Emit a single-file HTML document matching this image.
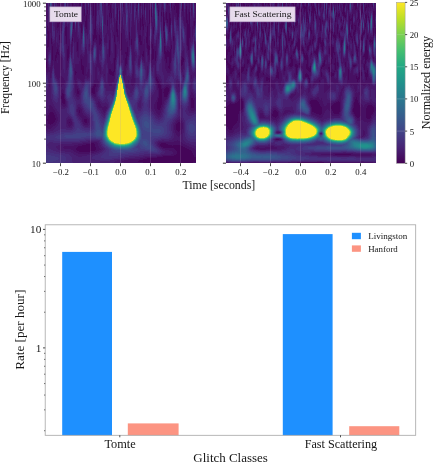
<!DOCTYPE html>
<html><head><meta charset="utf-8"><title>Glitch spectrograms</title>
<style>html,body{margin:0;padding:0;background:#fff;}svg{display:block}text{font-family:"Liberation Serif",serif;fill:#161616;stroke:#161616;stroke-width:0}</style>
</head><body>
<svg width="433" height="463" viewBox="0 0 433 463">
<defs>
<linearGradient id="vir" x1="0" y1="1" x2="0" y2="0">
<stop offset="0.0" stop-color="#440154"/>
<stop offset="0.1" stop-color="#482475"/>
<stop offset="0.2" stop-color="#414487"/>
<stop offset="0.3" stop-color="#355f8d"/>
<stop offset="0.4" stop-color="#2a788e"/>
<stop offset="0.5" stop-color="#21918c"/>
<stop offset="0.6" stop-color="#22a884"/>
<stop offset="0.7" stop-color="#44bf70"/>
<stop offset="0.8" stop-color="#7ad151"/>
<stop offset="0.9" stop-color="#bddf26"/>
<stop offset="1.0" stop-color="#fde725"/>
</linearGradient>
<filter id="ident" filterUnits="userSpaceOnUse" x="0" y="0" width="433" height="463" color-interpolation-filters="sRGB"><feOffset dx="0" dy="0"/></filter>
<filter id="soft" filterUnits="userSpaceOnUse" x="0" y="-10" width="433" height="200" color-interpolation-filters="sRGB"><feGaussianBlur stdDeviation="0.45"/></filter>
<clipPath id="cl"><rect x="46" y="3" width="150" height="160"/></clipPath>
<clipPath id="cr"><rect x="226" y="3" width="150" height="160"/></clipPath>
</defs>
<rect width="433" height="463" fill="#fff"/>
<g clip-path="url(#cl)"><g fill="none" stroke-width="1" shape-rendering="crispEdges" filter="url(#soft)">
<rect x="43" y="0" width="156" height="166" fill="#450559" stroke="none"/>
<path stroke="#471063" d="M43.5 0v62m0 6v98m1-166v62m0 6v98m1-166v62m0 6v98m1-166v62m0 6v98m1-166v26m0 8v6m0 8v71m0 2v45m1-166v31m0 16v68m0 9v42m1-166v113m0 11v42m1-166v112m0 13v41m1-166v16m0 5v17m0 6v68m0 12v42m1-166v46m0 14v52m0 12v42m1-166v7m0 5v101m0 10v43m1-166v115m0 7v44m1-166v55m0 6v57m0 2v46m1-166v15m0 6v31m0 6v108m1-162v19m0 5v21m0 5v112m1-166v23m0 4v25m0 3v111m1-157v13m0 2v11m0 5v126m1-166v21m0 7v138m1-166v96m0 3v67m1-166v12m0 4v77m0 10v63m1-166v94m0 10v62m1-166v99m0 5v62m1-166v27m0 9v130m1-166v26m0 18v122m1-166v49m0 12v105m1-166v46m0 12v108m1-166v122m0 1v43m1-166v166m1-166v166m1-156v28m0 3v125m1-166v10m0 8v4m0 7v137m1-166v166m1-166v71m0 4v91m1-166v6m0 10v56m0 1v75m0 2v16m1-166v42m0 9v38m0 5v53m0 4v15m1-166v91m0 3v52m0 5v15m1-159v103m0 3v33m0 6v14m1-148v128m0 6v14m1-166v24m0 9v26m0 11v76m0 6v14m1-166v65m0 9v71m0 7v14m1-160v60m0 9v70m0 7v14m1-166v9m0 7v103m0 3v23m0 7v14m1-166v21m0 6v92m0 4v22m0 7v14m1-166v15m0 14v90m0 4v21m0 8v14m1-166v10m0 4v130m0 8v14m1-166v144m0 8v14m1-166v144m0 8v14m1-166v144m0 7v15m1-166v143m0 8v15m1-166v88m0 5v50m0 8v15m1-150v19m0 6v45m0 8v49m0 8v15m1-166v29m0 10v45m0 10v50m0 7v15m1-128v46m0 3v60m0 3v16m1-166v35m0 5v126m1-166v166m1-166v166m1-166v35m0 10v121m1-166v38m0 6v122m1-166v39m0 2v125m1-166v166m1-166v166m1-162v162m1-166v166m1-166v166m1-166v20m0 6v140m1-160v160m1-161v8m0 4v23m0 17v12m0 5v92m1-166v5m0 8v56m0 6v91m1-162v9m0 5v53m0 4v91m1-166v72m0 4v90m1-166v71m0 5v90m1-166v35m0 7v16m0 14v94m1-166v44m0 16v106m1-166v21m0 11v134m1-166v8m0 12v9m0 8v129m1-166v166m1-166v11m0 13v142m1-166v49m0 2v115m1-166v33m0 17v116m1-166v166m1-159v159m1-166v166m1-166v52m0 2v4m0 8v100m1-166v52m0 12v102m1-166v47m0 9v110m1-166v166m1-166v32m0 8v126m1-166v166m1-166v39m0 6v121m1-166v166m1-166v166m1-166v166m1-166v166m1-166v8m0 3v155m1-161v161m1-166v161m0 1v4m1-166v35m0 7v118m0 2v4m1-160v12m0 12v5m0 10v115m0 2v4m1-166v41m0 4v115m0 2v4m1-166v15m0 11v28m0 2v104m0 2v4m1-166v24m0 6v21m0 6v102m1-149v149m1-159v159m1-159v37m0 6v116m1-159v26m0 23v109m1-158v45m0 10v103m1-158v10m0 14v22m0 4v108m1-158v158m1-158v7m0 10v141m1-158v44m0 16v98m1-158v27m0 7v15m0 10v99m1-158v158m1-158v51m0 10v97m1-158v77m0 4v77m1-153v74m0 5v18m0 7v48m1-157v10m0 6v65m0 7v10m0 12v47m1-157v83m0 27v47m1-157v85m0 23v36m0 2v11m1-157v12m0 4v73m0 16v38m0 4v10m1-157v143m0 4v10m1-157v12m0 19v61m0 1v50m0 5v8m1-156v22m0 4v6m0 11v3m0 8v35m0 8v46m0 5v8m1-156v51m0 8v29m0 9v46m0 5v8m1-156v12m0 8v32m0 11v24m0 10v47m0 4v8m1-151v14m0 4v27m0 7v30m0 8v49m0 4v8m1-156v51m0 6v9m0 2v20m0 4v53m0 3v8m1-156v13m0 19v20m0 17v76m0 3v8m1-156v18m0 7v24m0 14v82m0 3v8m1-148v37m0 4v96m0 3v8m1-156v146m0 2v8m1-156v36m0 5v104m0 3v8m1-156v6m0 4v135m0 4v6m1-149v139m0 5v5m1-142v111m0 6v15m0 6v3m1-134v103m0 8v14m1-128v105m0 10v13m1-145v122m0 9v14m1-145v123m0 7v15m1-145v60m0 6v80m1-135v46m0 8v81m1-146v58m0 4v85m1-147v147m1-147v148m1-148v6m0 17v125m1-148v20m0 26v103m1-149v24m0 26v99m1-149v12m0 26v112m1-150v150m1-150v8m0 2v88m0 10v43m1-151v98m0 10v45m1-153v100m0 8v47m0 7v4m1-166v21m0 5v131m0 5v4m1-166v157m0 5v4m1-166v157m0 5v4m1-166v157m0 5v4m1-166v157m0 5v4"/>
<path stroke="#48186a" d="M43.5 19v30m0 23v43m0 12v39m1-147v30m0 23v43m0 12v39m1-147v30m0 23v43m0 12v39m1-147v30m0 23v43m0 12v39m1-166v4m0 69v40m0 15v38m1-166v27m0 25v15m0 5v37m0 20v37m1-166v17m0 33v20m0 2v10m0 5v18m0 24v37m1-166v16m0 17v34m0 11v27m0 24v37m1-166v14m0 59v33m0 22v38m1-166v42m0 24v41m0 20v39m1-148v26m0 17v48m0 17v40m1-166v43m0 26v41m0 16v40m1-166v10m0 65v37m0 13v41m1-166v10m0 20v17m0 30v37m0 9v43m1-133v10m0 17v3m0 16v38m0 4v45m1-158v11m0 12v14m0 35v86m1-123v11m0 24v88m1-166v8m0 25v23m0 17v3m0 8v11m0 4v67m1-166v22m0 9v26m0 13v6m0 11v3m0 15v61m1-146v57m0 8v4m0 17v60m1-159v71m0 7v5m0 17v40m0 1v18m1-166v80m0 3v11m0 13v39m0 3v17m1-166v22m0 22v56m0 6v40m0 3v17m1-159v14m0 49v76m0 3v17m1-166v27m0 41v52m0 4v22m0 3v17m1-166v24m0 39v56m0 7v20m0 3v17m1-147v20m0 15v65m0 8v19m0 3v17m1-166v119m0 7v20m0 3v17m1-162v40m0 11v66m0 4v21m0 4v16m1-153v21m0 13v99m0 4v16m1-129v109m0 5v15m1-166v5m0 38v25m0 12v65m0 7v14m1-160v26m0 10v22m0 29v52m0 7v14m1-114v12m0 16v1m0 15v49m0 8v13m1-145v16m0 20v7m0 14v8m0 11v12m0 3v33m0 8v13m1-166v4m0 7v28m0 19v6m0 15v9m0 9v10m0 8v29m0 10v12m1-146v41m0 18v11m0 5v12m0 9v28m0 10v12m1-138v27m0 25v28m0 9v27m0 10v12m1-166v13m0 26v15m0 27v28m0 9v26m0 10v12m1-135v25m0 26v31m0 9v22m0 10v12m1-144v35m0 25v33m0 9v19m0 11v12m1-144v33m0 24v37m0 9v18m0 11v12m1-166v16m0 17v14m0 29v40m0 9v18m0 11v12m1-133v16m0 18v7m0 2v41m0 8v18m0 11v12m1-166v4m0 31v37m0 6v40m0 7v18m0 11v12m1-166v14m0 5v50m0 8v42m0 4v20m0 11v12m1-151v29m0 3v96m0 10v13m1-166v43m0 7v92m0 11v13m1-159v81m0 5v49m0 11v13m1-148v27m0 5v36m0 9v47m0 11v13m1-121v38m0 13v46m0 11v13m1-166v10m0 32v38m0 17v45m0 10v14m1-124v25m0 30v45m0 10v14m1-150v14m0 14v20m0 28v50m0 10v14m1-166v32m0 35v12m0 8v16m0 1v39m0 8v15m1-160v28m0 34v13m0 3v17m0 6v39m0 5v15m1-166v28m0 22v13m0 8v31m0 6v40m0 2v16m1-166v32m0 19v14m0 9v30m0 4v41m0 1v16m1-166v32m0 14v60m0 2v58m1-160v101m0 3v56m1-166v107m0 5v54m1-142v14m0 4v32m0 2v30m0 7v53m1-141v10m0 8v63m0 5v55m1-166v33m0 10v64m0 2v57m1-166v15m0 19v20m0 9v103m1-156v20m0 6v13m0 35v82m1-80v80m1-147v14m0 22v6m0 25v80m1-143v41m0 22v80m1-166v30m0 2v31m0 19v84m1-166v9m0 9v14m0 4v22m0 24v84m1-166v18m0 61v87m1-166v23m0 46v97m1-159v7m0 23v8m0 12v109m1-124v124m1-160v29m0 6v125m1-122v122m1-166v13m0 7v11m0 32v103m1-166v27m0 28v111m1-166v17m0 38v106m0 1v4m1-154v17m0 31v11m0 5v85m0 1v4m1-152v16m0 50v80m1-160v39m0 36v85m1-160v42m0 26v92m1-160v41m0 24v95m1-155v42m0 10v23m0 4v75m1-159v18m0 28v113m1-153v153m1-159v27m0 22v30m0 6v74m1-94v9m0 12v73m1-74v74m1-159v25m0 16v11m0 9v17m0 5v76m1-159v55m0 1v103m1-144v144m1-150v11m0 10v129m1-159v23m0 15v21m0 6v94m1-155v17m0 29v6m0 9v94m1-101v100m1-158v19m0 8v9m0 19v103m1-98v98m1-158v17m0 19v8m0 17v97m1-133v14m0 24v95m1-154v18m0 5v130m1-137v12m0 16v109m1-101v10m0 10v81m1-157v23m0 39v95m1-121v4m0 20v97m1-157v9m0 14v134m1-134v19m0 6v6m0 9v94m1-157v22m0 45v90m1-92v92m1-153v15m0 8v19m0 19v39m0 5v48m1-157v46m0 34v22m0 9v46m1-157v40m0 18v16m0 11v15m0 13v44m1-149v68m0 14v7m0 17v42m1-156v5m0 15v13m0 6v38m0 38v28m0 2v11m1-156v79m0 36v27m0 5v9m1-156v81m0 32v29m0 5v9m1-156v7m0 15v63m0 25v32m0 6v8m1-146v78m0 19v35m0 7v6m1-155v8m0 30v50m0 16v38m0 7v6m1-155v17m0 44v26m0 14v41m0 7v6m1-155v13m0 7v26m0 23v17m0 14v42m0 8v5m1-132v25m0 23v14m0 14v43m0 8v5m1-129v20m0 27v12m0 12v45m0 8v5m1-121v12m0 27v12m0 9v48m0 8v5m1-155v6m0 34v7m0 26v13m0 5v51m0 9v4m1-155v14m0 57v71m0 9v4m1-144v30m0 20v81m0 9v3m1-154v8m0 17v117m0 10v2m1-154v5m0 49v88m1-127v21m0 14v75m0 5v11m1-124v106m0 10v8m1-121v101m0 14v6m1-116v95m0 16v4m1-114v58m0 3v33m0 17v4m1-141v119m0 17v5m1-135v114m0 15v7m1-142v56m0 14v51m0 13v8m1-126v35m0 21v51m0 6v14m1-122v29m0 19v6m0 2v67m1-144v17m0 9v33m0 1v84m1-144v9m0 18v118m1-100v100m1-145v14m0 37v95m1-146v9m0 48v89m1-80v81m1-147v27m0 15v53m0 15v37m1-131v59m0 4v13m0 19v36m1-147v26m0 11v56m0 18v37m1-148v21m0 8v66m0 16v37m1-142v12m0 11v12m0 3v54m0 12v39m1-130v25m0 12v94m1-131v25m0 12v94m1-131v25m0 12v94m1-131v25m0 12v94"/>
<path stroke="#482071" d="M43.5 23v21m0 31v25m0 31v35m1-143v21m0 31v25m0 31v35m1-143v21m0 31v25m0 31v35m1-143v21m0 31v25m0 31v35m1-91v14m0 43v34m1-166v23m0 32v9m0 68v34m1-160v4m0 42v15m0 65v34m1-166v14m0 36v15m0 66v35m1-166v12m0 66v21m0 32v35m1-162v35m0 30v33m0 29v35m1-140v15m0 24v39m0 26v36m1-166v17m0 10v13m0 33v33m0 23v37m1-88v30m0 20v38m1-166v6m0 31v5m0 37v30m0 18v19m0 2v18m1-85v30m0 15v20m0 3v17m1-83v29m0 12v21m0 5v16m1-119v3m0 36v28m0 8v23m0 5v16m1-123v10m0 54v37m0 7v15m1-132v20m0 55v35m0 7v15m1-143v35m0 51v35m0 7v15m1-154v57m0 40v35m0 7v15m1-166v31m0 14v28m0 36v35m0 7v15m1-166v18m0 66v14m0 10v36m0 8v14m1-154v5m0 64v20m0 6v11m0 9v17m0 8v14m1-166v10m0 6v8m0 52v41m0 11v16m0 8v14m1-159v14m0 46v49m0 12v16m0 8v14m1-109v60m0 11v16m0 8v14m1-149v101m0 10v16m0 8v14m1-151v27m0 16v61m0 9v16m0 9v13m1-151v17m0 21v69m0 4v17m0 10v13m1-124v21m0 8v72m0 11v12m1-71v48m0 12v11m1-157v21m0 67v46m0 12v11m1-67v10m0 3v31m0 13v10m1-66v5m0 11v27m0 13v10m1-150v19m0 46v4m0 15v4m0 13v26m0 14v9m1-140v12m0 43v7m0 11v5m0 15v24m0 14v9m1-84v8m0 5v10m0 15v23m0 14v9m1-166v10m0 34v6m0 34v23m0 15v21m0 14v9m1-132v19m0 32v23m0 16v18m0 14v10m1-142v30m0 30v27m0 15v16m0 14v10m1-139v25m0 30v31m0 13v16m0 14v10m1-166v13m0 66v35m0 13v15m0 14v10m1-130v8m0 35v36m0 12v15m0 14v10m1-127v15m0 26v36m0 11v15m0 13v11m1-166v10m0 24v10m0 7v12m0 16v38m0 9v15m0 14v11m1-144v17m0 12v18m0 9v40m0 7v16m0 14v11m1-161v36m0 11v89m0 14v11m1-155v37m0 3v35m0 9v46m0 14v11m1-142v10m0 21v28m0 14v44m0 13v12m1-119v16m0 35v43m0 13v12m1-123v22m0 34v42m0 13v12m1-123v20m0 38v40m0 13v12m1-145v5m0 21v10m0 48v36m0 12v13m1-166v28m0 64v5m0 11v33m0 12v13m1-156v20m0 42v3m0 13v11m0 10v32m0 12v13m1-162v18m0 32v6m0 24v15m0 11v33m0 9v14m1-166v29m0 27v6m0 16v23m0 10v34m0 7v14m1-166v27m0 23v17m0 8v27m0 11v34m0 4v15m1-155v60m0 3v29m0 11v34m0 2v16m1-166v4m0 12v10m0 7v36m0 9v25m0 12v51m1-121v19m0 18v21m0 13v50m1-120v13m0 29v14m0 11v53m1-166v6m0 59v17m0 9v12m0 8v55m1-166v5m0 38v6m0 19v5m0 18v13m0 5v57m1-75v75m1-75v75m1-142v4m0 63v75m1-136v21m0 40v75m1-162v4m0 5v12m0 13v15m0 38v75m1-166v4m0 18v5m0 65v74m1-77v73m1-162v19m0 56v8m0 2v76m1-99v99m1-107v106m1-152v22m0 19v111m1-95v95m1-160v10m0 54v96m1-152v13m0 42v96m1-159v14m0 49v96m1-142v8m0 53v81m1-78v78m1-159v13m0 11v11m0 49v74m1-158v38m0 50v70m1-152v32m0 32v6m0 12v70m1-98v15m0 14v69m1-158v13m0 39v24m0 14v68m1-145v23m0 9v32m0 16v65m1-158v21m0 31v24m0 17v65m1-67v67m1-69v69m1-158v22m0 64v72m1-158v17m0 21v13m0 10v17m0 5v74m1-139v35m0 5v99m1-125v125m1-157v19m0 25v11m0 12v36m0 4v50m1-90v34m0 7v49m1-96v39m0 8v49m1-151v11m0 40v100m1-95v95m1-157v14m0 49v93m1-90v90m1-149v13m0 13v3m0 34v86m1-104v10m0 17v77m1-78v78m1-83v83m1-94v94m1-129v17m0 6v4m0 7v95m1-130v13m0 29v29m0 12v47m1-156v16m0 56v23m0 16v45m1-88v26m0 18v44m1-148v6m0 17v12m0 35v14m0 22v42m1-156v43m0 42v5m0 25v41m1-156v37m0 26v8m0 45v39m1-144v22m0 22v19m0 43v25m0 4v9m1-111v30m0 44v23m0 6v8m1-143v63m0 42v24m0 7v7m1-155v76m0 41v24m0 8v6m1-124v48m0 36v26m0 8v5m1-137v21m0 14v5m0 15v12m0 28v28m0 10v4m1-154v4m0 71v10m0 23v32m0 11v3m1-154v14m0 91v36m0 10v2m1-153v11m0 10v21m0 60v39m1-116v21m0 34v2m0 18v41m1-114v16m0 35v4m0 17v42m1-65v7m0 13v45m1-65v8m0 9v47m1-140v12m0 62v11m0 3v52m1-119v18m0 32v69m1-82v81m1-81v65m0 10v5m1-121v16m0 20v69m1-102v100m1-94v54m0 9v30m1-91v51m0 13v26m1-87v50m0 12v24m1-108v74m0 9v11m0 6v7m1-105v48m0 10v16m0 5v15m0 4v8m1-117v12m0 5v36m0 20v45m1-98v22m0 35v43m1-96v22m0 34v42m0 11v7m1-140v12m0 17v19m0 22v71m1-106v107m1-89v90m1-88v88m1-80v43m0 5v32m1-71v25m0 16v31m1-144v19m0 29v12m0 22v3m0 28v31m1-101v26m0 44v32m1-145v4m0 38v30m0 10v7m0 24v32m1-145v18m0 17v38m0 5v14m0 21v32m1-133v1m0 20v3m0 12v24m0 4v18m0 18v34m1-123v19m0 19v7m0 9v20m0 14v35m1-123v19m0 19v7m0 9v20m0 14v35m1-123v19m0 19v7m0 9v20m0 14v35m1-123v19m0 19v7m0 9v20m0 14v35"/>
<path stroke="#482979" d="M43.5 28v10m0 39v10m0 46v33m1-138v10m0 39v10m0 46v33m1-138v10m0 39v10m0 46v33m1-138v10m0 39v10m0 46v33m1-87v4m0 51v10m0 2v20m1-166v11m0 48v2m0 73v9m0 5v18m1-112v11m0 69v8m0 7v17m1-166v12m0 41v10m0 70v9m0 7v17m1-166v10m0 123v9m0 8v16m1-157v4m0 8v15m0 35v23m0 39v9m0 8v16m1-135v8m0 29v32m0 33v10m0 8v15m1-166v14m0 17v6m0 39v25m0 31v11m0 8v15m1-87v23m0 30v11m0 8v15m1-85v22m0 28v12m0 9v14m1-83v19m0 29v12m0 9v14m1-80v12m0 32v13m0 9v14m1-36v13m0 10v13m1-37v13m0 11v13m1-123v8m0 78v13m0 11v13m1-141v30m0 74v13m0 11v13m1-148v42m0 69v13m0 11v13m1-166v28m0 25v4m0 72v13m0 11v13m1-166v14m0 74v6m0 35v13m0 12v12m1-83v16m0 31v12m0 12v12m1-166v7m0 74v20m0 7v5m0 17v12m0 12v12m1-154v4m0 54v44m0 16v12m0 12v12m1-107v56m0 15v12m0 13v11m1-146v24m0 8v64m0 14v12m0 14v10m1-149v23m0 19v58m0 13v12m0 15v9m1-149v13m0 35v54m0 10v13m0 20v4m1-120v13m0 26v3m0 9v25m0 5v15m1-43v43m1-132v18m0 73v41m1-26v26m1-24v24m1-123v13m0 88v22m1-21v21m1-19v18m1-141v8m0 85v11m0 21v16m1-105v14m0 38v18m0 20v15m1-116v27m0 34v22m0 19v14m1-110v19m0 34v26m0 18v13m1-141v10m0 71v31m0 16v13m1-60v32m0 15v12m1-59v33m0 14v12m1-140v7m0 74v33m0 14v12m1-110v4m0 20v9m0 18v34m0 13v12m1-133v31m0 16v19m0 9v5m0 7v23m0 10v13m1-125v30m0 9v21m0 21v44m1-42v42m0 17v2m1-111v13m0 39v40m0 16v3m1-114v18m0 38v39m0 16v3m1-114v16m0 43v36m0 15v5m1-53v33m0 15v5m1-149v13m0 86v30m0 15v5m1-145v10m0 66v5m0 15v29m0 14v6m1-150v5m0 72v10m0 16v27m0 14v6m1-160v26m0 55v18m0 15v28m0 11v8m1-161v23m0 37v2m0 15v23m0 16v28m0 9v8m1-148v54m0 10v24m0 16v29m0 6v9m1-124v28m0 15v20m0 18v29m0 4v10m1-114v14m0 27v11m0 19v30m0 2v11m1-66v2m0 18v46m1-49v49m1-65v3m0 11v51m1-66v7m0 6v53m1-67v67m1-67v66m1-65v65m1-64v64m1-65v65m1-69v68m1-159v17m0 69v73m1-94v14m0 3v77m1-101v19m0 1v81m1-149v15m0 31v103m1-93v93m1-159v8m0 57v93m1-93v93m1-158v11m0 59v1m0 4v83m1-79v79m1-76v75m1-71v71m1-157v31m0 59v67m1-148v26m0 59v63m1-61v61m1-102v18m0 24v59m1-109v28m0 22v59m1-156v14m0 41v18m0 24v59m1-61v61m1-64v64m1-150v14m0 68v68m1-149v5m0 29v8m0 16v9m0 11v71m1-136v31m0 12v15m0 6v72m1-122v21m0 11v12m0 7v17m0 7v47m1-156v17m0 52v9m0 8v14m0 11v45m1-88v30m0 13v44m1-93v34m0 15v44m1-146v4m0 46v37m0 13v46m1-92v40m0 3v49m1-89v89m1-86v10m0 5v70m1-146v10m0 63v73m1-73v73m1-74v74m1-79v79m1-90v36m0 8v46m1-125v12m0 22v32m0 16v43m1-125v7m0 35v22m0 19v42m1-154v13m0 63v16m0 22v40m1-76v12m0 25v39m1-119v4m0 45v2m0 30v38m1-154v40m0 78v24m0 2v10m1-149v30m0 84v22m0 5v8m1-141v17m0 31v10m0 48v22m0 6v7m1-106v23m0 49v20m0 8v6m1-118v28m0 56v20m0 9v5m1-132v41m0 56v21m0 10v3m1-119v25m0 59v21m0 12v1m1-35v22m1-26v26m1-139v12m0 97v30m1-139v9m0 14v16m0 66v34m1-113v19m0 58v36m1-110v12m0 59v39m1-41v41m1-60v2m0 13v44m1-138v10m0 67v5m0 8v48m1-115v14m0 39v48m0 7v5m1-59v45m1-61v12m0 6v41m1-101v12m0 24v24m0 5v35m1-97v16m0 7v33m0 10v30m1-87v45m0 16v25m1-86v44m0 20v20m1-80v44m0 20v1m1-86v67m1-64v39m0 16v11m0 9v9m1-101v9m0 11v9m0 11v10m0 25v9m0 5v16m1-82v14m0 46v25m1-82v17m0 39v36m1-118v9m0 23v11m0 35v42m1-58v48m0 2v25m1-80v51m0 6v25m1-80v47m0 9v25m1-74v36m0 14v25m1-66v10m0 31v25m1-133v4m0 104v26m1-96v20m0 50v26m1-98v26m0 45v27m1-142v17m0 22v32m0 10v8m0 26v27m1-92v20m0 8v13m0 23v28m1-117v16m0 38v14m0 21v28m1-117v16m0 38v14m0 21v28m1-117v16m0 38v14m0 21v28m1-117v16m0 38v14m0 21v28"/>
<path stroke="#46307e" d="M43.5 81v2m0 53v4m0 12v14m1-85v2m0 53v4m0 12v14m1-85v2m0 53v4m0 12v14m1-85v2m0 53v4m0 12v14m1-30v4m0 12v14m1-166v4m0 132v4m0 12v14m1-110v7m0 73v4m0 12v14m1-166v11m0 44v6m0 74v5m0 13v13m1-166v9m0 126v5m0 13v13m1-140v6m0 42v12m0 49v5m0 13v13m1-95v24m0 40v5m0 13v13m1-166v11m0 67v20m0 36v7m0 13v12m1-86v19m0 35v7m0 13v12m1-84v17m0 35v7m0 13v12m1-81v12m0 36v8m0 13v12m1-76v1m0 42v8m0 13v12m1-33v8m0 14v11m1-34v9m0 14v11m1-34v9m0 14v11m1-138v24m0 80v9m0 14v11m1-144v34m0 76v9m0 15v6m1-162v25m0 107v9m0 15v6m1-162v10m0 122v9m0 16v4m1-75v11m0 35v9m1-58v16m0 33v9m1-67v27m0 31v9m1-80v52m0 19v9m1-119v19m0 14v59m0 18v9m1-122v20m0 22v55m0 15v10m1-122v9m0 40v22m0 9v18m0 14v10m1-39v17m0 11v11m1-36v17m0 7v12m1-129v14m0 90v25m1-22v22m1-20v20m1-119v6m0 95v18m1-17v16m1-14v14m1-12v12m1-101v8m0 45v12m0 25v11m1-114v24m0 38v18m0 23v11m1-106v13m0 38v23m0 22v10m1-57v26m0 21v9m1-57v29m0 19v9m1-57v30m0 18v9m1-139v5m0 77v30m0 18v9m1-56v30m0 17v9m1-129v25m0 21v13m0 27v18m0 15v10m1-119v21m0 16v13m0 28v18m0 13v10m1-40v22m0 5v13m1-89v10m0 41v38m1-93v16m0 42v35m1-93v14m0 47v32m1-30v30m1-28v28m1-26v27m1-50v5m0 20v25m1-140v17m0 66v14m0 21v22m1-140v18m0 61v19m0 21v23m0 14v2m1-143v48m0 16v19m0 22v24m0 11v3m1-118v22m0 21v14m0 23v26m0 8v4m1-108v8m0 61v28m0 6v6m1-42v31m0 4v7m1-45v35m0 1v9m1-48v48m1-50v50m1-52v52m1-61v61m1-61v61m1-60v59m1-62v62m1-66v66m1-158v14m0 74v70m1-75v75m1-98v14m0 5v79m1-144v3m0 47v9m0 2v82m1-90v90m1-157v5m0 61v91m1-91v91m1-157v5m0 70v81m1-76v76m1-73v73m1-69v68m1-155v8m0 2v17m0 65v63m1-144v11m0 73v60m1-58v58m1-98v13m0 29v56m1-106v24m0 27v55m1-94v9m0 30v55m1-55v55m1-60v59m1-145v9m0 72v15m0 6v43m1-67v16m0 10v41m1-121v16m0 17v10m0 10v16m0 12v40m1-118v16m0 16v9m0 10v13m0 14v40m1-154v15m0 56v5m0 13v9m0 16v40m1-84v10m0 33v40m1-89v26m0 23v40m1-93v31m0 21v41m1-88v21m0 3v4m0 18v42m1-84v7m0 12v14m0 6v45m1-67v66m1-141v4m0 69v68m1-70v70m1-70v22m0 3v45m1-75v23m0 10v43m1-87v30m0 16v41m1-120v5m0 27v27m0 21v40m1-79v17m0 24v38m1-147v3m0 70v10m0 27v37m1-35v35m1-34v22m0 4v8m1-153v35m0 85v20m0 7v6m1-147v27m0 88v18m0 9v5m1-137v10m0 95v18m0 10v4m1-31v17m0 11v2m1-112v19m0 63v17m1-114v35m0 61v17m1-101v19m0 65v17m1-18v18m1-20v20m1-138v10m0 104v24m1-114v13m0 71v30m1-111v17m0 61v32m1-106v8m0 63v35m1-38v37m1-41v29m0 7v3m1-134v7m0 84v31m1-97v10m0 52v34m1-39v37m1-36v35m1-97v7m0 29v18m0 11v31m1-92v8m0 15v27m0 15v26m1-81v22m0 8v3m0 25v21m1-80v28m0 35v13m1-71v37m1-58v13m0 15v33m1-59v33m0 21v7m1-81v8m0 70v3m0 9v12m1-75v6m0 53v19m1-77v13m0 42v23m1-106v5m0 75v27m1-35v34m1-39v38m0 16v12m1-71v41m0 17v16m1-68v29m0 22v19m1-19v19m1-19v20m1-91v16m0 54v21m1-94v23m0 50v21m1-139v15m0 27v27m0 48v22m1-87v16m0 13v8m0 28v22m1-112v13m0 42v8m0 27v22m1-112v13m0 42v8m0 27v22m1-112v13m0 42v8m0 27v22m1-112v13m0 42v8m0 27v22"/>
<path stroke="#453882" d="M43.5 155v11m1-11v11m1-11v11m1-11v11m1-11v11m1-11v11m1-108v3m0 94v7m1-162v10m0 145v7m1-162v7m0 149v6m1-6v6m1-88v16m0 66v5m1-156v3m0 72v15m0 61v5m1-79v14m0 41v1m0 19v4m1-78v13m0 40v2m0 19v3m1-73v7m0 42v3m0 18v3m1-25v4m0 19v1m1-24v4m1-4v4m1-5v5m1-108v17m0 86v5m1-113v7m0 13v6m0 82v5m1-121v3m0 112v6m1-139v7m0 126v6m1-51v7m0 38v6m1-54v13m0 35v6m1-58v17m0 35v6m1-75v34m0 35v6m1-115v14m0 19v40m0 8v7m0 21v6m1-119v17m0 25v29m0 13v10m0 19v6m1-118v5m0 45v4m0 29v11m0 18v6m1-32v9m0 16v7m1-7v7m1-126v12m0 106v8m1-9v9m1-11v11m1-11v11m1-10v10m1-9v9m1-9v9m1-8v8m1-112v21m0 43v12m0 28v8m1-102v7m0 43v18m0 26v7m1-54v23m0 25v6m1-55v25m0 24v6m1-54v25m0 23v6m1-54v26m0 22v6m1-43v16m0 20v7m1-123v16m0 30v1m0 35v15m0 19v7m1-114v9m0 28v1m0 37v14m0 18v7m1-37v14m0 15v8m1-86v6m0 45v18m0 8v9m1-91v13m0 47v31m1-90v10m0 51v29m1-26v27m1-25v25m1-23v23m1-20v20m1-139v10m0 76v9m0 26v18m1-139v14m0 67v15m0 27v16m1-123v19m0 9v14m0 23v15m0 27v19m1-99v17m0 26v5m0 33v20m1-23v24m1-27v29m1-32v32m1-35v36m1-38v39m1-41v48m1-51v51m1-53v53m1-56v56m1-59v59m1-62v62m1-67v67m1-72v72m1-92v6m0 10v76m1-81v80m1-88v88m1-89v89m1-88v87m1-78v78m1-74v74m1-70v70m1-66v66m1-141v12m0 67v62m1-139v2m0 78v59m1-56v55m1-93v8m0 32v53m1-102v20m0 31v51m1-49v49m1-46v46m1-43v43m1-61v7m0 13v41m1-64v11m0 14v39m1-116v10m0 23v4m0 13v13m0 17v35m1-114v11m0 21v5m0 13v10m0 21v33m1-152v13m0 79v2m0 24v34m1-81v6m0 40v35m1-87v19m0 32v35m1-90v24m0 30v36m1-84v13m0 34v37m1-58v1m0 18v39m1-63v13m0 10v40m1-66v18m0 8v40m1-67v18m0 9v40m1-68v17m0 12v39m1-72v18m0 16v38m1-82v23m0 23v37m1-85v23m0 26v36m1-76v13m0 28v35m1-69v2m0 34v21m0 4v8m1-32v19m0 7v6m1-30v16m0 9v5m1-152v30m0 93v15m0 10v4m1-144v24m0 91v15m0 11v3m1-28v14m1-14v13m1-94v13m0 68v13m1-110v31m0 65v14m1-98v15m0 69v14m1-14v13m1-14v14m1-136v9m0 111v16m1-111v10m0 80v20m1-107v14m0 65v18m0 1v8m1-100v2m0 68v18m1-21v20m1-24v23m1-120v4m0 88v27m1-91v5m0 55v31m1-34v33m1-33v32m1-57v11m0 17v28m1-64v21m0 18v23m1-73v11m0 43v17m1-76v23m1-16v28m1-20v12m0 7v6m1-50v2m1-28v6m0 86v8m1-12v15m1-74v10m0 45v20m1-23v24m1-30v29m1-34v33m1-37v35m0 24v5m1-60v15m0 38v11m1-12v13m1-14v15m1-87v13m0 59v15m1-90v21m0 54v15m1-136v13m0 31v24m0 52v16m1-82v13m0 17v1m0 36v15m1-108v10m0 85v12m1-107v10m0 85v12m1-107v10m0 85v12m1-107v10m0 85v12"/>
<path stroke="#424086" d="M50.5 0v9m1-9v5m2 73v5m1-1v10m1-9v11m1-9v8m8 43v1m1-137v4m0 131v2m1-2v3m1-51v9m0 39v3m1-54v13m0 38v3m1-70v28m0 39v3m1-111v9m0 22v34m0 43v3m1-117v15m0 28v16m0 55v3m1-3v3m1-4v4m1-4v4m1-124v10m0 110v4m1-5v5m1-5v5m1-5v5m1-5v5m1-5v5m1-5v4m1-4v4m1-109v19m0 48v5m0 33v4m1-48v14m0 30v4m1-51v18m0 29v4m1-52v20m0 28v3m1-51v22m0 27v2m1-43v15m0 25v3m1-39v12m0 24v3m1-37v11m0 23v3m1-35v10m0 22v3m1-33v9m0 21v3m1-29v7m0 18v5m1-89v11m0 51v11m0 9v7m1-88v7m0 56v25m1-23v24m1-21v21m1-18v18m1-15v15m1-138v6m0 119v13m1-138v11m0 72v11m0 33v11m1-121v16m0 14v7m0 28v11m0 35v12m1-95v13m0 67v18m1-21v22m1-25v26m1-29v30m1-32v33m1-36v37m1-40v41m1-43v43m1-45v47m1-50v51m1-54v55m1-59v59m1-64v64m1-68v68m1-72v72m1-77v77m1-85v85m1-86v86m1-85v85m1-77v77m1-72v72m1-69v69m1-64v63m1-137v8m0 70v59m1-56v56m1-54v54m1-51v51m1-99v16m0 34v49m1-47v47m1-44v44m1-42v42m1-39v38m1-61v8m0 17v36m1-111v4m0 45v9m0 20v29m0 1v3m1-111v7m0 43v6m0 24v26m0 2v2m1-146v7m0 111v23m1-21v22m1-80v15m0 38v29m1-85v19m0 35v32m1-80v7m0 40v18m0 1v14m1-34v34m1-59v7m0 17v35m1-62v12m0 15v36m1-65v14m0 15v36m1-65v13m0 17v35m1-68v12m0 22v34m1-78v17m0 28v33m1-80v18m0 31v18m0 5v9m1-73v8m0 34v17m0 8v6m1-29v14m0 10v5m1-27v12m0 12v3m1-26v11m0 13v1m1-150v27m0 98v11m1-127v21m0 96v10m1-10v10m1-10v10m1-90v7m0 73v9m1-107v28m0 70v9m1-94v10m0 75v9m1-8v7m1-6v5m1-133v6m1 21v5m1-3v12m1 65v12m1-15v15m1-20v20m1-25v25m1-29v28m1-31v30m1-30v29m1-52v3m0 23v25m1-56v11m0 23v21m1-17v13m1-70v17m1-9v17m3-64v4m1 85v12m1-70v7m0 47v18m1-21v21m1-26v26m1-31v30m1-34v31m1-27v10m1 43v6m1-7v8m1-81v9m0 64v9m1-86v19m0 58v9m1-133v12m0 33v22m0 58v7m1-76v9m0 61v5m1-101v7m1-7v7m1-7v7m1-7v7"/>
<path stroke="#3f4788" d="M50.5 0v7m5 78v6m1-4v3m11-1v5m1-7v8m1-10v7m1-32v20m1-58v13m0 31v11m4-61v7m8 6v17m1 46v7m1-11v14m1-15v16m1-14v15m1-7v8m1-6v8m1-6v7m1-5v5m3-59v9m0 75v2m1-4v5m1-16v17m1-15v15m1-13v13m1-10v10m1-8v8m1-51v3m0 41v7m1-118v12m0 54v3m0 42v9m1-92v9m0 70v15m1-18v20m1-23v25m1-28v29m1-31v31m1-34v35m1-38v39m1-41v41m1-44v45m1-47v48m1-51v51m1-55v55m1-59v60m1-65v65m1-70v71m1-76v76m1-83v83m1-85v85m1-83v83m1-75v75m1-71v70m1-66v66m1-61v61m1-57v57m1-55v55m1-52v52m1-50v50m1-94v9m0 38v47m1-45v44m1-41v41m1-39v37m1-34v34m1-32v31m1-56v4m0 24v27m1-25v24m1-22v21m1-19v18m1-75v11m0 48v17m1-80v16m0 51v14m1-25v8m0 11v7m1-28v12m0 9v8m1-30v13m0 9v8m1-59v9m0 20v14m0 8v9m1-62v11m0 20v14m0 8v9m1-62v10m0 21v15m0 8v9m1-30v13m0 9v8m1-75v12m0 34v12m0 12v5m1-77v14m0 36v10m0 14v3m1-24v7m1-4v4m1-3v4m1-4v4m1-133v25m0 104v4m1-122v18m0 100v4m1-4v4m1-4v4m1-4v4m1-103v25m0 75v2m1-87v2m5-16v9m1 71v1m1-7v11m1-16v16m1-22v22m1-26v25m1-28v28m1-28v27m1-24v23m1-20v18m1-12v6m1-63v12m1-2v6m4 32v10m1-14v15m1-18v19m1-23v23m1-29v28m1-31v27m1-22v5m3-27v5m1-10v17m1-65v9m0 37v20m1-8v4m1-29v1m1-1v1m1-1v1m1-1v1"/>
<path stroke="#3c4f8a" d="M50.5 0v6m20 57v14m1-54v11m0 34v6m4-56v3m8 9v14m2 48v5m1-6v8m8-49v7m2 75v3m1-5v6m1-6v6m1-6v6m1-5v5m1-4v4m1-116v10m0 103v4m1-87v3m0 75v12m1-16v18m1-20v22m1-25v26m1-30v31m1-34v35m1-37v37m1-39v40m1-43v43m1-46v47m1-49v49m1-53v54m1-58v58m1-64v64m1-68v68m1-73v73m1-80v80m1-82v82m1-80v3m0 1v76m1-72v72m1-68v68m1-65v65m1-59v59m1-56v56m1-53v53m1-51v51m1-48v48m1-46v45m1-42v42m1-39v38m1-36v36m1-33v32m1-30v29m1-27v27m1-24v23m1-21v19m1-17v16m1-73v7m0 53v11m1-75v13m2 63v3m1-22v4m0 15v4m1-55v4m0 27v6m0 14v5m1-58v7m0 26v7m0 14v4m1-57v4m0 29v6m0 16v1m1-22v5m1-51v6m1-8v9m5-84v23m1-11v16m4 3v22m6-21v6m2 70v4m1-10v12m1-19v19m1-23v23m1-26v26m1-26v25m1-23v22m1-18v15m2-63v4m5 41v7m1-11v13m1-16v17m1-20v20m1-26v24m1-27v10m0 9v4m5-46v15m1-17v18"/>
<path stroke="#39558c" d="M50.5 0v4m20 63v5m1-47v8m12-1v11m11 9v3m8-34v8m1 100v10m1-14v16m1-19v21m1-24v25m1-28v29m1-32v33m1-35v36m1-39v39m1-41v42m1-45v45m1-48v49m1-52v52m1-57v57m1-62v63m1-68v68m1-73v73m1-79v1m0 2v76m1-82v82m1-75v75m1-72v72m1-68v68m1-63v63m1-58v58m1-55v55m1-52v52m1-50v49m1-47v47m1-44v44m1-42v41m1-38v38m1-35v34m1-32v31m1-28v28m1-26v25m1-23v22m1-20v19m1-16v14m1-11v9m1-72v9m14-76v21m1-7v12m4 6v20m9 53v6m1-14v16m1-21v21m1-24v23m1-23v23m1-21v19m1-15v12m7-13v1m1-8v12m1-15v16m1-18v18m1-23v21m1-25v8m5-31v13m1-14v15"/>
<path stroke="#365c8d" d="M71.5 26v5m12 2v8m19-17v2m1 104v8m1-12v14m1-17v19m1-22v23m1-26v27m1-30v31m1-34v35m1-37v38m1-41v41m1-43v44m1-47v47m1-51v52m1-56v56m1-61v61m1-66v66m1-71v71m1-75v75m1-80v80m1-74v74m1-70v70m1-67v67m1-62v62m1-57v57m1-54v54m1-51v51m1-49v49m1-46v45m1-43v43m1-40v40m1-37v36m1-34v34m1-31v30m1-28v27m1-24v23m1-21v20m1-18v17m1-14v12m1-7v4m1-68v4m14-73v19m1-3v8m4 9v18m10 47v12m1-18v19m1-21v21m1-21v20m1-18v17m1-12v8m8-17v10m1-13v14m1-15v15m1-13v11m1-22v4m5-28v11m1-12v13"/>
<path stroke="#33638d" d="M83.5 36v2m20 95v3m1-9v12m1-15v17m1-20v22m1-25v26m1-29v30m1-33v34m1-37v37m1-39v40m1-43v43m1-46v47m1-50v50m1-54v54m1-60v61m1-66v66m1-70v70m1-74v74m1-80v80m1-74v74m1-70v70m1-66v66m1-62v62m1-56v56m1-53v53m1-51v51m1-48v47m1-45v45m1-42v42m1-39v38m1-36v36m1-33v32m1-29v28m1-26v26m1-24v23m1-20v19m1-17v15m1-12v10m16-135v13m1 2v2m4 13v15m10 52v5m1-13v16m1-19v20m1-20v19m1-16v15m1-9v3m8-13v8m1-11v12m1-13v13m1-11v9m6-44v9m1-10v12"/>
<path stroke="#30698e" d="M104.5 128v10m1-13v16m1-19v20m1-23v24m1-28v29m1-32v33m1-35v36m1-39v39m1-42v43m1-45v45m1-49v50m1-54v54m1-59v59m1-64v64m1-69v70m1-74v74m1-79v3m0 1v75m1-74v74m1-69v69m1-66v66m1-61v61m1-56v55m1-52v52m1-49v49m1-47v47m1-44v44m1-42v41m1-38v38m1-35v34m1-31v31m1-29v28m1-25v24m1-22v21m1-19v18m1-15v13m1-10v8m16-131v7m5 21v13m11 46v13m1-16v17m1-17v17m1-15v13m9-16v6m1-9v11m1-12v11m1-8v6m6-42v7m1-8v10"/>
<path stroke="#2e6f8e" d="M104.5 130v8m1-12v14m1-17v19m1-23v24m1-27v28m1-31v32m1-35v35m1-37v38m1-41v42m1-45v45m1-48v48m1-52v53m1-59v59m1-64v64m1-69v69m1-73v73m1-77v1m0 2v74m1-73v73m1-68v68m1-64v64m1-59v59m1-55v55m1-52v52m1-49v49m1-47v47m1-44v43m1-40v40m1-37v36m1-34v34m1-31v30m1-27v26m1-24v24m1-21v20m1-18v17m1-15v13m1-9v6m21-100v9m11 49v10m1-13v15m1-15v15m1-13v11m10-18v10m1-10v9m7-42v4m1-5v7"/>
<path stroke="#2b758e" d="M104.5 131v6m1-11v13m1-16v18m1-21v22m1-25v26m1-30v31m1-33v34m1-37v37m1-40v41m1-44v45m1-48v48m1-52v52m1-57v57m1-62v63m1-68v68m1-73v73m1-74v74m1-73v73m1-68v68m1-64v64m1-59v59m1-54v54m1-51v51m1-49v48m1-45v45m1-43v43m1-40v40m1-37v36m1-33v32m1-29v29m1-27v26m1-23v22m1-20v19m1-17v16m1-13v11m1-5v2m21-97v4m11 54v5m1-10v13m1-13v13m1-9v7m10-15v8m1-9v9m8-42v5"/>
<path stroke="#297b8e" d="M104.5 134v1m1-8v12m1-15v17m1-20v21m1-25v26m1-29v30m1-33v34m1-37v37m1-39v40m1-43v43m1-46v47m1-51v51m1-57v57m1-62v62m1-66v67m1-73v73m1-74v74m1-72v72m1-68v68m1-64v64m1-58v58m1-54v53m1-50v50m1-47v47m1-45v45m1-42v42m1-39v38m1-36v36m1-33v32m1-29v28m1-25v25m1-23v22m1-20v19m1-16v15m1-12v10m34-46v11m1-11v11m1-6v2m10-11v6m1-6v5"/>
<path stroke="#26828e" d="M105.5 128v10m1-13v15m1-19v21m1-24v25m1-29v30m1-32v32m1-35v36m1-39v39m1-42v43m1-46v46m1-50v51m1-56v56m1-62v62m1-66v66m1-72v72m1-72v72m1-71v71m1-66v66m1-62v62m1-57v57m1-53v53m1-50v50m1-47v47m1-44v44m1-42v41m1-38v38m1-35v34m1-31v31m1-28v27m1-25v24m1-21v20m1-18v17m1-15v14m1-11v9m34-44v8m1-8v8m11-11v2m1-3v3"/>
<path stroke="#24878e" d="M105.5 129v8m1-12v15m1-18v19m1-23v24m1-27v28m1-31v32m1-35v36m1-38v38m1-41v42m1-45v45m1-49v49m1-54v55m1-61v61m1-66v66m1-72v72m1-72v72m1-71v71m1-66v66m1-62v62m1-56v56m1-52v52m1-49v49m1-47v47m1-44v43m1-41v41m1-38v38m1-35v34m1-31v31m1-28v27m1-24v23m1-21v20m1-18v17m1-14v12m1-9v7m34-42v5m1-5v6"/>
<path stroke="#228d8d" d="M105.5 130v7m1-11v13m1-17v19m1-22v23m1-27v28m1-31v32m1-35v35m1-37v38m1-41v41m1-44v45m1-49v49m1-54v54m1-60v61m1-66v66m1-72v72m1-72v72m1-71v71m1-66v66m1-62v62m1-56v56m1-52v52m1-49v49m1-46v45m1-43v43m1-40v40m1-37v36m1-33v33m1-30v29m1-27v26m1-23v23m1-21v20m1-17v16m1-14v12m1-8v5"/>
<path stroke="#20938c" d="M105.5 131v5m1-10v13m1-16v18m1-21v22m1-26v27m1-30v30m1-33v34m1-37v38m1-41v41m1-44v45m1-49v49m1-54v54m1-60v60m1-64v64m1-70v71m1-72v72m1-71v71m1-65v65m1-62v62m1-55v55m1-52v51m1-48v48m1-45v45m1-43v43m1-40v39m1-36v36m1-33v33m1-30v29m1-26v25m1-23v22m1-19v18m1-16v15m1-12v11"/>
<path stroke="#1f998a" d="M105.5 134v1m1-8v11m1-15v17m1-20v21m1-25v26m1-29v30m1-33v34m1-37v37m1-39v40m1-43v43m1-47v48m1-53v53m1-59v59m1-64v64m1-70v70m1-71v71m1-70v70m1-64v64m1-60v60m1-54v54m1-50v50m1-48v48m1-45v45m1-42v42m1-39v38m1-35v35m1-32v31m1-29v29m1-26v25m1-22v21m1-19v18m1-16v15m1-12v10"/>
<path stroke="#1f9f88" d="M106.5 127v11m1-14v16m1-20v21m1-24v25m1-29v30m1-33v34m1-36v36m1-39v40m1-43v43m1-47v47m1-51v52m1-59v59m1-64v64m1-70v70m1-71v71m1-69v69m1-64v64m1-59v59m1-54v54m1-50v50m1-47v47m1-45v45m1-42v41m1-38v38m1-35v35m1-32v31m1-28v27m1-25v25m1-22v21m1-18v17m1-15v14m1-11v9"/>
<path stroke="#21a585" d="M106.5 128v9m1-13v15m1-18v20m1-24v25m1-28v29m1-32v32m1-35v36m1-39v39m1-42v43m1-46v46m1-51v51m1-57v58m1-64v64m1-70v70m1-71v71m1-69v69m1-64v64m1-59v59m1-53v53m1-50v50m1-47v47m1-45v44m1-41v41m1-38v38m1-35v34m1-31v31m1-28v27m1-24v23m1-20v20m1-18v17m1-15v13m1-9v7"/>
<path stroke="#25ab82" d="M106.5 129v8m1-12v14m1-18v20m1-23v24m1-28v28m1-31v32m1-35v36m1-39v39m1-42v43m1-46v46m1-51v51m1-57v57m1-63v64m1-69v69m1-71v71m1-68v68m1-64v64m1-59v59m1-53v53m1-50v49m1-46v46m1-43v43m1-41v41m1-38v38m1-34v33m1-31v31m1-27v26m1-24v23m1-20v19m1-17v16m1-13v12m1-8v6"/>
<path stroke="#2cb17e" d="M106.5 130v7m1-12v14m1-17v18m1-22v23m1-27v28m1-31v32m1-34v34m1-37v38m1-41v42m1-46v46m1-50v50m1-57v57m1-62v62m1-68v69m1-71v71m1-68v68m1-64v64m1-59v59m1-53v53m1-49v48m1-46v46m1-43v43m1-40v40m1-37v36m1-33v33m1-30v29m1-26v26m1-23v22m1-20v19m1-16v15m1-13v11m1-7v5"/>
<path stroke="#34b679" d="M106.5 130v6m1-10v12m1-16v18m1-22v23m1-26v27m1-30v31m1-34v34m1-37v38m1-41v41m1-45v46m1-50v50m1-57v57m1-62v62m1-68v68m1-70v70m1-67v67m1-62v62m1-57v57m1-52v52m1-48v48m1-45v45m1-43v43m1-40v40m1-37v36m1-33v33m1-30v29m1-26v25m1-22v22m1-20v19m1-16v15m1-12v10m1-4v1"/>
<path stroke="#3dbc74" d="M106.5 131v4m1-9v12m1-15v17m1-21v22m1-26v27m1-30v31m1-34v34m1-37v38m1-41v41m1-44v44m1-49v50m1-56v56m1-62v62m1-68v68m1-70v70m1-67v67m1-62v62m1-57v57m1-51v51m1-48v48m1-45v45m1-43v43m1-40v39m1-36v36m1-33v33m1-29v28m1-26v25m1-22v22m1-19v18m1-16v15m1-12v10"/>
<path stroke="#4ac16d" d="M107.5 127v11m1-15v17m1-21v22m1-25v26m1-30v30m1-33v34m1-37v37m1-40v41m1-44v44m1-49v50m1-56v56m1-62v62m1-68v68m1-70v70m1-67v67m1-62v62m1-57v57m1-51v51m1-48v48m1-45v45m1-42v41m1-39v39m1-35v35m1-32v31m1-28v28m1-25v24m1-22v21m1-18v17m1-15v14m1-11v10"/>
<path stroke="#56c667" d="M107.5 127v10m1-14v16m1-19v21m1-25v25m1-28v29m1-32v33m1-36v36m1-39v40m1-44v44m1-48v48m1-54v55m1-62v62m1-68v68m1-70v70m1-67v67m1-62v62m1-56v56m1-51v51m1-48v48m1-45v45m1-42v41m1-38v38m1-35v35m1-32v31m1-28v28m1-25v24m1-21v20m1-18v17m1-14v13m1-10v8"/>
<path stroke="#63cb5f" d="M107.5 128v9m1-13v15m1-19v20m1-24v25m1-28v29m1-32v33m1-36v36m1-39v40m1-43v43m1-48v48m1-54v54m1-61v62m1-68v68m1-70v70m1-67v67m1-62v62m1-56v56m1-51v51m1-48v47m1-44v44m1-41v41m1-38v38m1-35v35m1-32v31m1-27v27m1-25v24m1-21v20m1-17v16m1-14v13m1-10v8"/>
<path stroke="#73d056" d="M107.5 128v9m1-13v15m1-18v19m1-23v24m1-28v29m1-32v32m1-35v36m1-39v40m1-43v43m1-47v47m1-54v54m1-61v61m1-67v68m1-70v70m1-67v67m1-62v62m1-56v56m1-51v51m1-47v46m1-43v43m1-41v41m1-38v38m1-35v34m1-30v30m1-27v26m1-23v22m1-20v20m1-17v16m1-14v13m1-9v7"/>
<path stroke="#81d34d" d="M107.5 129v7m1-11v13m1-17v19m1-23v24m1-28v29m1-32v32m1-35v36m1-39v39m1-42v43m1-47v47m1-54v54m1-61v61m1-67v67m1-69v69m1-65v65m1-61v61m1-55v55m1-50v50m1-46v46m1-43v43m1-41v41m1-38v38m1-34v33m1-30v30m1-27v26m1-23v22m1-19v19m1-17v16m1-13v11m1-7v5"/>
<path stroke="#93d741" d="M107.5 129v7m1-11v13m1-17v19m1-23v24m1-27v28m1-31v31m1-34v35m1-38v38m1-42v43m1-47v47m1-54v54m1-60v60m1-67v67m1-69v69m1-65v65m1-61v61m1-55v55m1-49v49m1-46v46m1-43v43m1-41v41m1-37v36m1-33v33m1-30v30m1-27v26m1-23v22m1-19v18m1-15v14m1-12v11m1-7v5"/>
<path stroke="#a2da37" d="M107.5 130v6m1-11v13m1-16v18m1-22v23m1-27v27m1-30v31m1-34v34m1-37v38m1-42v42m1-46v47m1-54v54m1-60v60m1-67v67m1-69v69m1-65v65m1-61v61m1-55v55m1-49v49m1-46v46m1-43v43m1-41v41m1-37v36m1-33v33m1-30v29m1-26v26m1-23v22m1-19v18m1-15v14m1-11v10m1-5v2"/>
<path stroke="#b2dd2d" d="M107.5 131v4m1-9v12m1-16v17m1-21v22m1-26v27m1-30v31m1-34v34m1-37v38m1-42v42m1-46v47m1-54v54m1-60v60m1-66v66m1-69v69m1-65v65m1-61v61m1-55v55m1-49v49m1-46v46m1-43v43m1-40v39m1-36v36m1-33v33m1-30v29m1-25v25m1-22v21m1-19v18m1-15v14m1-11v9"/>
<path stroke="#c5e021" d="M107.5 131v4m1-9v11m1-15v17m1-21v22m1-26v27m1-30v31m1-34v34m1-37v38m1-42v42m1-46v46m1-53v54m1-60v60m1-66v66m1-69v69m1-65v65m1-61v61m1-55v55m1-49v49m1-46v46m1-43v43m1-40v39m1-36v36m1-33v33m1-30v29m1-25v25m1-22v21m1-19v18m1-15v14m1-11v9"/>
<path stroke="#d5e21a" d="M108.5 126v11m1-15v17m1-21v22m1-26v27m1-30v31m1-34v34m1-37v38m1-42v42m1-46v46m1-53v53m1-59v60m1-66v66m1-69v69m1-65v65m1-61v61m1-55v55m1-49v49m1-46v46m1-43v42m1-39v39m1-36v36m1-32v32m1-29v28m1-25v24m1-21v21m1-19v18m1-15v14m1-11v9"/>
<path stroke="#e5e419" d="M108.5 126v11m1-15v17m1-21v22m1-26v27m1-30v30m1-33v34m1-37v38m1-41v41m1-46v46m1-53v53m1-59v59m1-64v65m1-69v69m1-64v64m1-61v61m1-55v55m1-49v49m1-46v45m1-42v42m1-39v39m1-36v36m1-32v31m1-28v28m1-25v24m1-21v21m1-18v17m1-15v14m1-11v9"/>
<path stroke="#fde725" d="M108.5 127v10m1-14v16m1-21v22m1-26v27m1-30v30m1-33v34m1-37v38m1-41v41m1-46v46m1-53v53m1-59v59m1-64v65m1-69v69m1-64v64m1-60v60m1-55v55m1-49v49m1-46v45m1-42v42m1-39v39m1-36v36m1-32v31m1-28v28m1-25v24m1-21v21m1-18v17m1-15v14m1-11v9"/>
</g></g>
<g clip-path="url(#cr)"><g fill="none" stroke-width="1" shape-rendering="crispEdges" filter="url(#soft)">
<rect x="223" y="0" width="156" height="166" fill="#450559" stroke="none"/>
<path stroke="#471063" d="M223.5 0v11m0 1v23m0 3v12m0 13v12m0 7v25m0 19v40m1-166v11m0 1v23m0 3v12m0 13v12m0 7v25m0 19v40m1-166v11m0 1v23m0 3v12m0 13v12m0 7v25m0 19v40m1-166v11m0 1v23m0 3v12m0 13v12m0 7v25m0 19v40m1-166v49m0 6v6m0 4v11m0 7v23m0 21v39m1-166v34m0 5v8m0 5v11m0 5v37m0 24v37m1-166v28m0 4v14m0 6v12m0 6v34m0 26v36m1-166v7m0 18v31m0 6v3m0 9v29m0 27v36m1-153v42m0 3v10m0 6v30m0 26v36m1-166v7m0 3v8m0 8v7m0 5v30m0 4v32m0 24v38m1-166v20m0 2v10m0 5v14m0 5v10m0 5v33m0 22v40m1-166v5m0 4v22m0 5v30m0 1v37m0 21v41m1-166v21m0 4v3m0 6v11m0 6v52m0 21v42m1-166v14m0 5v11m0 3v70m0 20v43m1-166v23m0 8v71m0 19v45m1-166v17m0 11v14m0 3v28m0 2v26m0 13v52m1-162v11m0 5v8m0 4v40m0 5v22m0 12v55m1-166v69m0 13v17m0 12v55m1-156v15m0 5v3m0 6v28m0 6v26m0 11v56m1-166v23m0 10v34m0 5v29m0 8v57m1-158v10m0 11v7m0 2v12m0 6v11m0 4v95m1-166v4m0 4v18m0 3v12m0 4v19m0 4v98m1-166v12m0 4v4m0 8v138m1-166v5m0 4v6m0 3v36m0 2v13m0 2v95m1-166v6m0 3v13m0 7v30m0 5v102m1-166v5m0 7v4m0 3v31m0 2v8m0 3v103m1-166v15m0 2v5m0 3v4m0 3v15m0 6v113m1-166v9m0 5v13m0 4v6m0 14v115m1-161v27m0 7v29m0 4v94m1-166v33m0 4v30m0 3v96m1-166v30m0 4v10m0 3v18m0 4v97m1-166v18m0 6v36m0 7v99m1-166v61m0 3v102m1-166v9m0 4v13m0 5v29m0 2v104m1-166v9m0 4v32m0 4v22m0 5v90m1-166v33m0 6v28m0 11v88m1-166v8m0 3v56m0 6v93m1-166v10m0 6v41m0 3v106m1-166v17m0 14v16m0 3v116m1-160v5m0 1v17m0 4v8m0 11v114m1-144v9m0 11v31m0 2v91m1-166v8m0 1v9m0 6v26m0 6v110m1-161v5m0 14v3m0 4v18m0 4v113m1-166v23m0 4v50m0 4v85m1-166v37m0 3v37m0 4v85m1-161v27m0 4v27m0 3v12m0 2v86m1-166v5m0 4v4m0 16v32m0 3v14m0 4v84m1-166v11m0 9v36m0 7v103m1-166v22m0 3v29m0 8v104m1-166v20m0 4v15m0 2v13m0 9v51m0 2v50m1-166v111m0 6v49m1-166v41m0 5v64m0 7v49m1-160v11m0 14v79m0 8v48m1-155v2m0 3v13m0 13v33m0 3v33m0 6v22m0 1v26m1-166v13m0 12v44m0 9v34m0 4v23m0 1v26m1-166v16m0 2v32m0 4v18m0 7v60m0 1v26m1-166v12m0 6v18m0 15v6m0 5v104m1-166v24m0 5v5m0 5v127m1-161v14m0 13v134m1-166v17m0 11v138m1-159v15m0 3v141m1-160v8m0 7v8m0 4v33m0 5v95m1-162v12m0 3v16m0 3v11m0 4v113m1-166v8m0 7v23m0 11v117m1-162v5m0 23v13m0 3v118m1-166v5m0 6v12m0 4v4m0 10v125m1-162v17m0 6v11m0 3v23m0 2v100m1-166v18m0 8v10m0 3v6m0 2v10m0 2v4m0 4v99m1-166v14m0 6v6m0 2v13m0 4v10m0 12v99m1-162v37m0 3v15m0 7v100m1-143v2m0 3v10m0 3v10m0 3v112m1-166v8m0 6v14m0 3v18m0 4v113m1-153v10m0 3v20m0 3v15m0 3v99m1-162v6m0 5v7m0 4v17m0 3v18m0 11v91m1-166v7m0 8v6m0 4v17m0 5v18m0 3v94m1-162v8m0 7v23m0 13v111m1-153v30m0 11v6m0 3v4m0 2v97m1-157v157m1-162v9m0 3v150m1-157v42m0 4v111m1-154v41m0 5v108m1-162v6m0 6v41m0 5v104m1-162v7m0 2v34m0 2v10m0 5v14m0 3v85m1-140v31m0 7v4m0 5v4m0 4v85m1-156v6m0 7v11m0 7v9m0 5v4m0 15v4m0 3v85m1-162v18m0 5v22m0 5v17m0 4v4m0 4v83m1-162v9m0 2v31m0 4v22m0 4v6m0 5v79m1-162v27m0 4v9m0 5v21m0 6v29m0 3v58m1-156v5m0 5v14m0 4v19m0 2v45m0 7v55m1-162v6m0 7v26m0 5v56m0 12v50m1-141v15m0 5v59m0 12v50m1-162v8m0 3v40m0 2v47m0 13v49m1-162v11m0 3v37m0 3v46m0 13v49m1-162v16m0 3v30m0 6v45m0 14v48m1-148v32m0 11v44m0 13v48m1-162v38m0 11v53m0 12v48m1-162v18m0 2v17m0 6v37m0 2v22m0 11v47m1-154v11m0 12v6m0 7v62m0 9v47m1-162v42m0 5v20m0 2v3m0 5v30m0 7v48m1-162v20m0 2v18m0 11v14m0 2v95m1-162v42m0 4v17m0 4v95m1-162v60m0 6v100m1-166v4m0 5v157m1-166v166m1-166v9m0 9v148m1-161v29m0 5v28m0 2v97m1-161v15m0 12v16m0 6v13m0 5v94m1-166v16m0 4v10m0 3v13m0 9v8m0 2v7m0 4v90m1-156v21m0 9v4m0 13v2m0 5v8m0 5v29m0 3v57m1-166v32m0 1v14m0 12v14m0 3v29m0 6v55m1-166v35m0 2v10m0 6v20m0 3v28m0 9v53m1-166v8m0 3v21m0 6v14m0 3v8m0 2v6m0 1v31m0 11v52m1-166v18m0 4v13m0 5v18m0 12v33m0 11v40m0 1v11m1-166v12m0 5v85m0 12v40m0 1v11m1-166v24m0 10v28m0 4v36m0 12v40m0 1v11m1-160v8m0 3v84m0 13v40m0 1v11m1-166v13m0 3v17m0 5v64m0 10v42m0 1v11m1-166v154m0 1v11m1-166v19m0 2v6m0 3v10m0 7v107m0 1v11m1-166v12m0 2v12m0 3v11m0 3v111m0 1v11m1-166v4m0 12v4m0 2v132m0 1v11m1-158v4m0 5v137m0 1v11m1-166v15m0 3v44m0 5v87m0 1v11m1-166v154m0 1v11m1-166v46m0 3v105m0 1v11m1-166v4m0 6v59m0 11v74m0 1v11m1-166v16m0 19v119m0 1v11m1-166v19m0 2v12m0 4v117m0 1v11m1-166v18m0 3v4m0 4v7m0 2v128m1-166v14m0 15v10m0 4v11m0 2v110m1-166v32m0 4v29m0 2v41m0 4v54m1-160v19m0 1v4m0 5v1m0 5v24m0 2v35m0 12v52m1-156v15m0 7v10m0 3v20m0 1v33m0 17v50m1-157v37m0 5v25m0 3v18m0 20v49m1-166v19m0 1v29m0 8v21m0 4v18m0 18v48m1-166v10m0 9v4m0 3v21m0 1v29m0 3v23m0 15v48m1-166v19m0 4v49m0 7v26m0 12v49m1-166v20m0 3v84m0 9v50m1-166v6m0 9v22m0 3v9m0 3v20m0 4v90m1-166v5m0 8v20m0 8v125m1-166v32m0 3v21m0 1v109m1-162v26m0 4v20m0 3v7m0 6v96m1-166v7m0 4v3m0 4v5m0 4v19m0 18v8m0 5v89m1-166v5m0 3v7m0 8v17m0 20v13m0 7v28m0 10v48m1-166v35m0 4v11m0 9v11m0 7v29m0 13v47m1-166v4m0 3v9m0 2v87m0 14v47m1-166v20m0 3v17m0 2v63m0 14v47m1-166v39m0 4v62m0 13v48m1-162v36m0 2v63m0 10v51m1-166v5m0 2v33m0 4v62m0 8v52m1-166v11m0 9v8m0 8v21m0 2v48m0 5v54m1-166v11m0 16v139m1-166v28m0 6v132m1-166v28m0 6v132m1-166v28m0 6v132m1-166v28m0 6v132"/>
<path stroke="#48186a" d="M223.5 0v9m0 5v19m0 6v8m0 19v7m0 13v17m0 27v36m1-166v9m0 5v19m0 6v8m0 19v7m0 13v17m0 27v36m1-166v9m0 5v19m0 6v8m0 19v7m0 13v17m0 27v36m1-166v9m0 5v19m0 6v8m0 19v7m0 13v17m0 27v36m1-166v10m0 4v19m0 35v5m0 14v15m0 29v35m1-162v13m0 5v8m0 40v4m0 11v16m0 31v34m1-151v11m0 11v7m0 32v25m0 32v33m1-166v4m0 24v19m0 29v25m0 32v33m1-141v25m0 12v3m0 12v25m0 31v33m1-162v1m0 34v10m0 9v8m0 10v27m0 30v33m1-159v5m0 13v4m0 10v6m0 13v6m0 10v4m0 13v12m0 29v34m1-150v12m0 13v22m0 8v10m0 9v13m0 27v36m1-166v4m0 5v10m0 35v11m0 4v14m0 8v11m0 27v37m1-166v12m0 10v6m0 6v8m0 3v22m0 3v17m0 6v8m0 28v37m1-166v12m0 20v7m0 7v24m0 8v11m0 39v38m1-166v16m0 14v9m0 8v23m0 8v12m0 37v39m1-143v3m0 8v35m0 11v15m0 28v43m1-166v15m0 6v5m0 9v27m0 2v2m0 20v11m0 17v52m1-153v10m0 18v19m0 21v17m0 15v53m1-154v9m0 15v12m0 11v7m0 8v25m0 13v54m1-154v3m0 26v6m0 11v7m0 9v27m0 7v58m1-153v9m0 9v8m0 35v92m1-166v9m0 20v22m0 24v91m1-138v1m0 6v15m0 24v92m1-155v6m0 14v8m0 29v98m1-145v3m0 4v19m0 8v1m0 9v101m1-161v8m0 21v11m0 11v3m0 5v102m1-151v11m0 7v2m0 18v12m0 11v9m0 4v77m1-159v23m0 17v19m0 10v9m0 5v76m1-156v21m0 8v5m0 3v19m0 8v92m1-166v6m0 1v12m0 17v7m0 28v95m1-166v14m0 22v8m0 1v11m0 12v98m1-166v7m0 15v37m0 6v101m1-166v4m0 13v7m0 12v21m0 7v8m0 4v72m0 1v17m1-166v7m0 8v24m0 16v9m0 15v68m0 2v17m1-166v14m0 12v3m0 13v23m0 16v66m0 2v17m1-162v2m0 6v13m0 3v36m0 16v68m0 1v17m1-162v4m0 10v25m0 9v3m0 7v6m0 10v35m0 5v30m0 2v16m1-161v9m0 23v6m0 11v19m0 4v36m0 5v30m0 2v16m1-142v3m0 7v5m0 15v18m0 5v36m0 5v30m0 2v16m1-140v3m0 26v15m0 7v38m0 3v30m0 2v16m1-166v6m0 20v18m0 17v13m0 12v31m0 1v30m0 2v16m1-134v15m0 9v19m0 11v61m0 3v16m1-162v15m0 10v4m0 4v36m0 12v62m0 2v17m1-158v6m0 5v16m0 6v20m0 8v5m0 11v62m0 2v17m1-158v13m0 2v4m0 13v21m0 8v6m0 11v1m0 6v54m0 2v17m1-134v28m0 6v10m0 16v55m0 2v17m1-166v7m0 20v26m0 12v12m0 11v58m0 3v17m1-166v5m0 23v15m0 6v3m0 13v14m0 8v26m0 5v28m0 3v17m1-166v18m0 8v11m0 28v15m0 8v22m0 9v27m0 3v17m1-166v14m0 7v17m0 10v8m0 7v17m0 10v18m0 12v26m0 3v13m1-162v7m0 12v20m0 9v31m0 10v19m0 12v27m0 2v13m1-153v4m0 21v43m0 5v26m0 12v19m0 1v7m0 2v13m1-140v2m0 25v23m0 9v28m0 12v18m0 1v7m0 2v17m1-166v10m0 27v10m0 6v14m0 14v29m0 9v13m0 1v6m0 1v26m1-166v15m0 5v16m0 2v9m0 14v6m0 16v28m0 7v14m0 1v6m0 1v26m1-162v6m0 75v47m0 1v6m0 1v26m1-166v22m0 28v3m0 6v12m0 14v54m0 1v26m1-159v10m0 18v11m0 10v17m0 8v85m1-166v15m0 14v137m1-157v10m0 13v36m0 7v38m0 2v51m1-158v4m0 11v4m0 8v13m0 27v36m0 3v52m1-160v8m0 6v13m0 7v7m0 9v10m0 5v39m0 4v52m1-166v7m0 9v20m0 15v25m0 3v31m0 3v53m1-115v59m0 3v53m1-154v10m0 21v5m0 7v10m0 2v43m0 2v50m1-154v11m0 9v8m0 7v10m0 16v41m0 2v50m1-162v7m0 2v7m0 13v5m0 35v27m0 2v13m0 1v50m1-140v2m0 6v8m0 31v25m0 5v63m1-156v12m0 3v19m0 5v6m0 17v26m0 4v64m1-132v6m0 7v6m0 8v1m0 8v28m0 3v65m1-162v5m0 11v10m0 6v16m0 7v4m0 8v6m0 4v17m0 2v66m1-148v7m0 7v17m0 5v9m0 19v14m0 3v67m1-134v13m0 6v14m0 17v84m1-162v6m0 22v6m0 15v14m0 10v89m1-162v6m0 11v18m0 18v10m0 4v95m1-151v14m0 42v95m1-150v5m0 10v14m0 10v4m0 4v3m0 5v95m1-162v8m0 13v25m0 5v15m0 2v18m0 3v73m1-153v6m0 5v25m0 7v14m0 3v93m1-148v33m0 9v7m0 16v83m1-147v1m0 4v30m0 29v83m1-162v6m0 5v24m0 2v4m0 7v3m0 27v84m1-137v9m0 3v7m0 34v84m1-140v5m0 12v4m0 36v83m1-162v16m0 13v13m0 10v5m0 26v5m0 5v69m1-162v6m0 7v27m0 8v18m0 26v8m0 4v58m1-162v25m0 21v8m0 5v4m0 13v7m0 5v10m0 8v56m1-116v5m0 6v41m0 16v48m1-138v6m0 15v53m0 17v47m1-108v29m0 3v13m0 16v47m1-162v6m0 7v22m0 5v10m0 5v26m0 4v14m0 16v47m1-162v9m0 7v22m0 1v11m0 6v25m0 3v14m0 18v46m1-156v9m0 6v26m0 10v23m0 3v15m0 18v46m1-132v11m0 18v20m0 4v14m0 20v45m1-162v16m0 11v6m0 18v27m0 5v14m0 20v45m1-153v8m0 6v2m0 20v32m0 8v14m0 19v44m1-150v4m0 31v22m0 14v17m0 18v44m1-155v6m0 18v9m0 10v16m0 14v18m0 20v36m0 1v7m1-162v9m0 5v3m0 7v14m0 15v10m0 6v4m0 6v22m0 16v37m0 1v7m1-152v11m0 5v12m0 14v9m0 9v5m0 4v25m0 11v39m0 1v7m1-162v21m0 4v32m0 13v6m0 17v13m0 7v41m0 1v7m1-142v36m0 6v2m0 5v9m0 14v14m0 5v43m0 1v7m1-162v55m0 5v4m0 5v13m0 9v14m0 5v44m0 1v7m1-162v4m0 16v9m0 6v5m0 3v12m0 15v15m0 5v13m0 6v45m0 1v7m1-154v24m0 11v3m0 8v10m0 8v14m0 3v14m0 7v44m0 1v7m1-156v12m0 17v11m0 10v8m0 11v10m0 3v15m0 8v43m0 1v7m1-162v4m0 18v7m0 5v3m0 43v5m0 2v16m0 10v41m0 1v7m1-151v7m0 5v6m0 53v21m0 12v39m0 1v7m1-162v28m0 8v9m0 19v5m0 13v21m0 13v38m0 1v7m1-158v30m0 5v6m0 20v5m0 13v19m0 14v37m0 3v6m1-150v13m0 50v3m0 6v18m0 14v37m0 3v6m1-157v11m0 27v9m0 20v7m0 5v17m0 15v37m0 3v6m1-140v5m0 11v24m0 10v6m0 5v18m0 15v37m0 3v6m1-162v13m0 23v21m0 12v2m0 12v17m0 16v37m0 3v6m1-152v1m0 8v6m0 4v3m0 5v26m0 4v32m0 17v37m0 3v6m1-162v11m0 7v13m0 10v54m0 20v38m0 3v6m1-162v4m0 4v9m0 5v6m0 2v6m0 9v47m0 20v41m0 3v6m1-162v5m0 7v5m0 6v2m0 6v6m0 26v26m0 7v57m0 3v6m1-158v6m0 6v7m0 8v7m0 7v17m0 2v24m0 3v62m0 3v6m1-138v34m0 5v11m0 3v9m0 3v64m0 3v6m1-144v10m0 2v29m0 6v8m0 7v73m0 3v6m1-157v8m0 7v38m0 20v75m0 3v6m1-162v6m0 11v28m0 31v77m0 3v6m1-153v35m0 17v6m0 17v69m0 3v6m1-132v4m0 4v25m0 20v70m0 3v6m1-162v14m0 28v3m0 5v20m0 13v70m0 3v6m1-162v14m0 10v8m0 8v33m0 12v68m0 3v6m1-162v15m0 26v10m0 6v13m0 16v67m0 3v6m1-162v9m0 21v6m0 23v5m0 21v24m0 3v41m0 3v6m1-148v10m0 15v25m0 5v6m0 11v17m0 11v40m0 2v6m1-148v9m0 20v21m0 4v7m0 14v8m0 19v38m0 2v6m1-128v6m0 7v17m0 3v7m0 18v1m0 25v36m0 2v6m1-151v9m0 10v14m0 10v10m0 2v8m0 17v1m0 27v35m0 2v6m1-162v8m0 4v5m0 5v5m0 4v16m0 13v16m0 9v8m0 28v33m0 2v6m1-122v4m0 8v4m0 8v9m0 10v9m0 29v33m0 2v6m1-157v8m0 12v5m0 4v6m0 6v24m0 12v10m0 3v7m0 19v33m0 2v6m1-153v10m0 7v10m0 4v11m0 5v4m0 7v3m0 15v18m0 18v33m0 2v6m1-145v18m0 6v6m0 8v5m0 4v6m0 15v19m0 16v34m0 2v6m1-148v14m0 18v10m0 8v16m0 5v20m0 15v16m0 1v17m0 2v6m1-162v31m0 5v19m0 5v3m0 5v14m0 4v21m0 14v9m0 6v18m0 2v6m1-150v8m0 15v18m0 6v2m0 13v8m0 4v19m0 17v9m0 4v19m0 2v6m1-162v5m0 24v11m0 45v19m0 18v32m0 2v6m1-152v3m0 50v3m0 18v20m0 18v32m0 2v6m1-162v4m0 12v17m0 28v7m0 16v19m0 20v31m0 2v6m1-151v2m0 7v14m0 6v11m0 11v12m0 11v18m0 19v32m0 2v6m1-154v11m0 14v4m0 7v14m0 2v18m0 8v17m0 19v32m0 2v6m1-151v25m0 9v34m0 5v18m0 19v33m0 2v6m1-155v30m0 8v58m0 16v35m0 1v7m1-153v28m0 21v46m0 12v46m1-162v9m0 29v17m0 6v44m0 10v51m1-133v72m0 8v53m1-162v4m0 7v10m0 11v71m0 4v55m1-162v4m0 7v10m0 11v71m0 4v55m1-162v4m0 7v10m0 11v71m0 4v55m1-162v4m0 7v10m0 11v71m0 4v55"/>
<path stroke="#482071" d="M223.5 0v7m0 9v15m0 9v6m0 47v7m0 34v28m1-162v7m0 9v15m0 9v6m0 47v7m0 34v28m1-162v7m0 9v15m0 9v6m0 47v7m0 34v28m1-162v7m0 9v15m0 9v6m0 47v7m0 34v28m1-162v6m0 9v16m0 64v3m0 37v27m1-157v11m0 119v27m1-145v6m0 16v3m0 38v9m0 46v31m1-137v16m0 33v22m0 36v30m1-139v19m0 33v11m0 2v10m0 33v31m1-126v7m0 14v3m0 28v10m0 33v31m1-158v2m0 82v11m0 31v32m1-119v6m0 4v4m0 31v10m0 32v32m1-155v7m0 38v7m0 8v8m0 14v8m0 32v33m1-166v11m0 24v5m0 8v17m0 8v2m0 22v1m0 35v33m1-162v6m0 23v5m0 9v21m0 12v6m0 46v34m1-166v15m0 16v7m0 10v11m0 2v8m0 11v7m0 45v34m1-128v1m0 3v18m0 3v4m0 64v35m1-162v10m0 23v23m0 29v6m0 36v35m1-150v5m0 22v16m0 26v12m0 33v36m1-129v10m0 15v2m0 17v17m0 18v6m0 8v36m1-106v3m0 18v18m0 13v14m0 2v38m1-152v6m0 12v5m0 43v86m1-136v19m0 30v87m1-129v11m0 28v90m1-133v3m0 35v95m1-137v8m0 30v18m0 2v79m1-159v4m0 30v2m0 24v16m0 7v72m1-146v9m0 29v9m0 14v6m0 8v71m1-152v18m0 23v15m0 12v5m0 9v70m1-150v14m0 14v2m0 7v16m0 12v6m0 10v69m1-152v8m0 19v5m0 33v14m0 4v69m1-158v7m0 26v5m0 4v7m0 17v78m0 1v13m1-127v22m0 9v7m0 3v71m0 2v13m1-124v3m0 4v7m0 13v6m0 6v69m0 4v12m1-146v16m0 27v1m0 21v65m0 4v12m1-162v6m0 40v2m0 7v9m0 20v62m0 4v12m1-149v9m0 9v7m0 5v7m0 9v4m0 21v27m0 7v28m0 4v12m1-142v18m0 43v29m0 9v27m0 4v12m1-155v5m0 44v15m0 8v31m0 9v27m0 4v12m1-107v16m0 7v33m0 8v27m0 4v12m1-105v9m0 25v22m0 6v27m0 4v12m1-162v5m0 23v9m0 28v3m0 27v20m0 4v27m0 4v12m1-129v13m0 12v14m0 24v20m0 3v27m0 4v12m1-156v10m0 23v8m0 13v9m0 27v21m0 2v27m0 4v12m1-141v6m0 16v5m0 1v10m0 38v20m0 2v27m0 4v12m1-120v18m0 37v19m0 3v26m0 5v12m1-128v18m0 16v6m0 21v20m0 5v25m0 5v12m1-133v17m0 2v3m0 15v10m0 17v19m0 8v25m0 5v12m1-132v11m0 25v11m0 14v18m0 11v25m0 5v12m1-162v9m0 5v2m0 12v8m0 31v10m0 14v16m0 14v24m0 5v12m1-162v10m0 14v12m0 31v10m0 18v11m0 15v24m0 5v12m1-162v4m0 17v17m0 12v27m0 21v8m0 16v17m0 1v5m0 5v12m1-126v11m0 2v26m0 22v9m0 16v17m0 2v5m0 4v12m1-111v15m0 18v5m0 6v12m0 16v9m0 1v5m0 3v5m0 4v12m1-157v4m0 30v6m0 9v12m0 18v24m0 14v9m0 2v5m0 3v5m0 4v12m1-162v14m0 7v12m0 9v2m0 42v24m0 11v10m0 2v5m0 3v5m0 4v12m1-156v1m0 82v22m0 8v13m0 1v5m0 3v5m0 4v12m1-153v4m0 48v8m0 22v21m0 5v22m0 2v5m0 4v12m1-105v14m0 20v22m0 3v23m0 1v6m0 3v13m1-162v13m0 17v40m0 18v23m0 6v29m0 3v13m1-151v6m0 16v8m0 10v7m0 19v2m0 7v23m0 7v30m0 3v13m1-126v10m0 31v31m0 8v31m0 1v14m1-155v6m0 8v12m0 8v5m0 35v26m0 8v47m1-162v6m0 11v18m0 18v14m0 14v26m0 8v47m1-109v14m0 3v4m0 6v27m0 7v48m1-149v8m0 49v37m0 7v48m1-151v7m0 12v3m0 12v6m0 20v25m0 3v8m0 7v48m1-162v4m0 67v24m0 5v7m0 6v49m1-130v2m0 37v23m0 7v5m0 7v49m1-155v10m0 6v4m0 3v9m0 8v2m0 28v16m0 9v5m0 6v49m1-130v3m0 9v3m0 22v1m0 8v15m0 8v9m0 3v49m1-145v9m0 9v12m0 32v13m0 8v62m1-146v3m0 11v13m0 9v5m0 23v10m0 10v62m1-131v5m0 12v12m0 20v10m0 9v63m1-162v4m0 26v2m0 18v11m0 14v17m0 6v64m1-144v7m0 29v7m0 7v25m0 4v65m1-150v11m0 45v17m0 4v1m0 6v66m1-132v9m0 29v16m0 11v67m1-162v7m0 16v22m0 8v11m0 6v14m0 11v67m1-139v20m0 11v10m0 9v10m0 11v68m1-146v30m0 11v4m0 21v4m0 7v69m1-140v18m0 2v5m0 33v10m0 1v71m1-162v4m0 9v20m0 46v11m0 2v70m1-134v3m0 47v11m0 6v67m1-82v8m0 8v66m1-162v7m0 3v4m0 17v9m0 63v59m1-148v10m0 5v10m0 11v5m0 50v57m1-155v16m0 25v4m0 56v54m1-97v18m0 6v6m0 21v38m0 1v7m1-116v7m0 5v1m0 2v22m0 5v8m0 20v37m0 2v7m1-106v25m0 7v9m0 20v36m0 2v7m1-162v5m0 9v19m0 9v6m0 8v23m0 7v11m0 20v36m0 2v7m1-162v8m0 10v18m0 5v8m0 9v21m0 6v12m0 20v36m0 2v7m1-154v6m0 9v22m0 15v19m0 6v11m0 22v35m0 2v7m1-130v6m0 23v17m0 6v10m0 24v35m0 3v5m1-157v11m0 37v25m0 8v8m0 26v34m0 3v5m1-151v6m0 32v27m0 44v34m0 3v5m1-112v18m0 53v13m0 1v19m0 3v5m1-128v5m0 15v12m0 56v12m0 1v19m0 3v5m1-137v10m0 20v7m0 60v32m0 3v6m1-151v9m0 100v33m0 3v6m1-162v20m0 6v20m0 1v8m0 64v34m0 3v6m1-140v33m0 16v5m0 43v34m0 3v6m1-162v15m0 5v18m0 4v4m0 4v4m0 16v9m0 40v34m0 3v6m1-141v7m0 43v12m0 10v6m0 19v35m0 3v6m1-151v6m0 6v8m0 26v5m0 11v11m0 8v8m0 18v35m0 3v6m1-155v9m0 26v2m0 14v4m0 16v5m0 8v9m0 18v35m0 3v6m1-139v5m0 62v11m0 17v35m0 3v6m1-150v5m0 73v11m0 17v35m0 3v6m1-162v4m0 6v9m0 4v2m0 13v6m0 46v11m0 17v35m0 3v6m1-157v28m0 8v2m0 47v11m0 17v35m0 3v6m1-149v10m0 68v10m0 17v35m0 3v6m1-155v8m0 59v3m0 14v9m0 18v35m0 3v6m1-122v12m0 33v14m0 19v35m0 3v6m1-157v5m0 28v17m0 30v12m0 21v35m0 4v5m1-142v4m0 15v23m0 6v14m0 4v6m0 26v35m0 4v5m1-158v6m0 10v10m0 12v10m0 2v30m0 34v35m0 4v5m1-151v5m0 7v3m0 6v3m0 13v3m0 2v32m0 31v37m0 4v5m1-130v4m0 28v22m0 25v42m0 4v5m1-156v2m0 8v6m0 11v3m0 32v17m0 15v53m0 4v5m1-137v4m0 3v4m0 5v16m0 9v6m0 21v59m0 5v5m1-143v7m0 7v25m0 10v4m0 16v64m0 5v5m1-156v6m0 16v28m0 30v66m0 5v5m1-141v19m0 46v67m0 4v5m1-151v32m0 42v68m0 4v5m1-121v5m0 5v9m0 25v68m0 4v5m1-158v8m0 40v15m0 18v68m0 3v6m1-162v13m0 12v6m0 13v4m0 7v16m0 16v66m0 3v6m1-157v7m0 32v5m0 9v10m0 20v65m0 3v6m1-162v7m0 54v1m0 27v16m0 9v39m0 3v6m1-146v7m0 18v3m0 12v7m0 28v6m0 19v37m0 3v6m1-146v6m0 22v19m0 6v4m0 44v36m0 3v6m1-112v13m0 5v5m0 47v33m0 4v5m1-149v5m0 14v11m0 14v6m0 4v6m0 50v30m0 4v5m1-162v7m0 26v13m0 20v8m0 50v29m0 4v5m1-76v3m0 37v27m0 4v5m1-155v4m0 16v1m0 7v4m0 88v26m0 4v5m1-152v8m0 23v9m0 79v7m0 2v15m0 4v4m1-143v17m0 61v3m0 39v15m0 4v4m1-146v8m0 26v3m0 15v5m0 22v6m0 37v16m0 4v4m1-161v13m0 6v11m0 8v16m0 16v9m0 10v12m0 36v16m0 4v4m1-147v5m0 18v15m0 36v13m0 36v16m0 4v5m1-129v5m0 49v15m0 34v17m0 4v5m1-76v16m0 32v19m0 4v5m1-144v9m0 35v4m0 20v16m0 24v27m0 4v5m1-141v12m0 30v5m0 19v15m0 23v28m0 4v5m1-150v5m0 28v11m0 6v14m0 14v11m0 23v29m0 4v5m1-146v18m0 12v31m0 20v2m0 24v30m0 4v5m1-151v24m0 12v32m0 10v10m0 22v32m0 4v5m1-150v23m0 24v26m0 4v12m0 18v35m0 2v6m1-162v8m0 32v14m0 8v24m0 4v12m0 16v36m0 2v6m1-127v22m0 5v24m0 4v12m0 15v37m0 2v6m1-145v6m0 15v20m0 5v21m0 14v5m0 13v38m0 2v6m1-145v6m0 15v20m0 5v21m0 14v5m0 13v38m0 2v6m1-145v6m0 15v20m0 5v21m0 14v5m0 13v38m0 2v6m1-145v6m0 15v20m0 5v21m0 14v5m0 13v38m0 2v6"/>
<path stroke="#482979" d="M223.5 17v13m0 12v2m0 93v25m1-145v13m0 12v2m0 93v25m1-145v13m0 12v2m0 93v25m1-145v13m0 12v2m0 93v25m1-146v14m0 107v25m1-156v9m0 122v25m1-25v25m1-132v14m0 36v8m0 49v25m1-126v7m0 38v5m0 8v7m0 36v25m1-121v4m0 48v9m0 35v25m1-69v9m0 34v26m1-69v9m0 34v26m1-150v5m0 41v3m0 34v5m0 35v27m1-162v10m0 39v15m0 71v27m1-127v2m0 11v19m0 15v2m0 50v28m1-162v13m0 19v5m0 11v9m0 5v6m0 13v4m0 49v28m1-118v15m0 75v28m1-157v8m0 25v21m0 74v29m1-118v14m0 30v8m0 37v29m1-124v9m0 37v13m0 36v29m1-79v14m0 36v29m1-128v2m0 46v16m0 10v8m0 17v29m1-131v7m0 5v4m0 35v40m0 11v29m1-124v7m0 38v41m0 5v33m1-90v11m0 4v39m0 1v35m1-132v3m0 35v15m0 10v69m1-86v6m0 11v69m1-145v7m0 31v7m0 31v69m1-151v14m0 28v12m0 29v68m1-148v6m0 31v13m0 31v67m1-151v6m0 21v4m0 38v6m0 11v50m0 2v13m1-157v5m0 28v3m0 6v5m0 25v12m0 9v49m0 3v12m1-126v20m0 11v5m0 5v15m0 7v47m0 4v12m1-96v4m0 9v67m0 4v12m1-146v14m0 54v61m0 5v12m1-162v4m0 53v6m0 22v23m0 8v29m0 6v11m1-148v6m0 13v3m0 8v4m0 39v20m0 12v26m0 6v11m1-138v13m0 48v23m0 12v25m0 6v11m1-106v14m0 11v27m0 12v25m0 6v11m1-107v15m0 11v28m0 11v25m0 6v11m1-103v5m0 36v11m0 9v25m0 6v11m1-162v4m0 26v5m0 64v14m0 7v25m0 6v11m1-129v12m0 14v10m0 30v16m0 5v25m0 6v11m1-122v5m0 16v7m0 32v15m0 5v25m0 6v11m1-110v6m0 42v15m0 5v25m0 6v11m1-119v17m0 40v14m0 6v24m0 7v11m1-126v14m0 49v12m0 10v23m0 7v11m1-131v14m0 21v9m0 22v12m0 12v23m0 7v11m1-129v6m0 27v10m0 21v9m0 15v22m0 8v11m1-132v5m0 32v9m0 46v21m0 8v11m1-158v1m0 22v8m0 36v3m0 48v17m0 1v2m0 9v11m1-140v14m0 17v21m0 49v16m0 12v11m1-111v22m0 29v1m0 21v14m0 4v2m0 7v11m1-110v13m0 35v5m0 20v6m0 2v5m0 4v2m0 7v11m1-107v10m0 33v9m0 17v7m0 3v4m0 4v3m0 6v11m1-162v13m0 10v9m0 60v16m0 15v8m0 3v4m0 3v4m0 6v11m1-69v16m0 13v9m0 2v5m0 3v4m0 6v11m1-98v3m0 27v15m0 11v12m0 1v5m0 3v4m0 6v11m1-104v12m0 24v15m0 10v20m0 2v3m0 7v11m1-162v11m0 21v37m0 22v16m0 12v25m0 6v12m1-126v2m0 49v12m0 19v25m0 7v12m1-124v7m0 39v15m0 18v27m0 6v12m1-154v3m0 11v10m0 50v17m0 17v28m0 6v12m1-162v4m0 14v16m0 20v11m0 17v18m0 16v28m0 5v13m1-108v11m0 16v18m0 16v30m0 3v14m1-149v8m0 51v25m0 18v30m0 3v14m1-149v4m0 55v23m0 20v30m0 1v16m1-90v22m0 20v48m1-87v18m0 21v47m1-153v7m0 16v8m0 40v14m0 21v47m1-82v13m0 22v47m1-142v6m0 15v6m0 33v12m0 22v48m1-123v2m0 13v2m0 25v9m0 24v48m1-112v10m0 23v6m0 15v58m1-111v10m0 17v12m0 12v60m1-142v4m0 34v1m0 12v14m0 16v61m1-93v16m0 14v63m1-129v6m0 31v15m0 13v64m1-161v6m0 18v20m0 10v9m0 8v12m0 13v65m1-132v11m0 14v9m0 15v2m0 16v65m1-144v28m0 50v66m1-138v14m0 44v6m0 8v66m1-143v14m0 47v9m0 8v57m0 2v6m1-82v9m0 10v55m0 2v6m1-80v5m0 16v51m0 2v6m1-161v6m0 26v7m0 66v48m0 2v6m1-146v8m0 7v8m0 69v8m0 1v37m0 3v5m1-149v10m0 94v37m0 3v5m1-94v5m0 4v5m0 36v35m0 4v5m1-113v3m0 12v18m0 10v3m0 23v35m0 4v5m1-103v21m0 10v7m0 22v34m0 4v5m1-161v4m0 12v4m0 2v8m0 13v4m0 10v21m0 10v8m0 22v34m0 4v5m1-161v7m0 12v15m0 8v6m0 11v19m0 9v8m0 24v33m0 4v5m1-151v2m0 22v9m0 20v14m0 9v8m0 25v33m0 4v5m1-127v1m0 28v14m0 8v8m0 27v32m0 4v5m1-154v7m0 39v22m0 12v4m0 29v32m0 5v4m1-150v5m0 34v22m0 49v31m0 5v4m1-111v16m0 55v12m0 1v18m0 5v4m1-105v8m0 58v11m0 1v18m0 5v4m1-136v7m0 25v1m0 64v30m0 5v4m1-149v7m0 103v30m0 5v4m1-161v19m0 9v5m0 6v5m0 6v4m0 67v31m0 5v4m1-138v15m0 1v8m0 2v5m0 67v31m0 5v4m1-161v14m0 7v9m0 2v5m0 35v5m0 43v32m0 5v4m1-139v5m0 46v9m0 38v32m0 5v4m1-135v4m0 45v8m0 37v32m0 5v4m1-153v6m0 79v5m0 21v33m0 5v4m1-136v1m0 66v7m0 20v33m0 5v4m1-148v3m0 76v8m0 19v33m0 5v4m1-150v7m0 74v8m0 19v33m0 5v4m1-155v26m0 60v8m0 19v33m0 5v4m1-147v7m0 71v8m0 18v34m0 5v4m1-151v3m0 80v6m0 19v34m0 5v4m1-120v10m0 67v34m0 5v4m1-122v15m0 34v1m0 29v34m0 5v4m1-120v19m0 9v11m0 38v34m0 5v4m1-156v4m0 16v3m0 15v7m0 6v26m0 36v34m0 5v4m1-102v24m0 35v34m0 5v4m1-95v18m0 32v36m0 5v4m1-144v3m0 51v12m0 26v43m0 5v4m1-119v14m0 43v53m0 5v4m1-140v3m0 10v23m0 34v61m0 5v4m1-154v4m0 20v23m0 34v64m0 5v4m1-139v16m0 49v65m0 5v4m1-148v7m0 2v20m0 45v65m0 5v4m1-119v2m0 9v5m0 28v66m0 5v4m1-156v4m0 45v10m0 22v66m0 5v4m1-161v12m0 15v3m0 26v13m0 19v64m0 5v4m1-102v8m0 23v17m0 7v38m0 5v4m1-69v9m0 14v37m0 5v4m1-144v5m0 35v5m0 55v35m0 5v4m1-143v3m0 24v18m0 56v33m0 5v4m1-109v11m0 61v28m0 5v4m1-127v8m0 17v2m0 7v4m0 53v28m0 5v3m1-161v6m0 28v11m0 22v6m0 53v27m0 5v3m1-33v25m0 5v3m1-31v5m0 3v15m0 5v3m1-150v6m0 26v6m0 89v15m0 5v3m1-142v15m0 104v15m0 5v3m1-144v5m0 116v15m0 5v3m1-161v12m0 8v10m0 9v14m0 85v15m0 5v3m1-146v3m0 20v13m0 38v10m0 39v15m0 5v3m1-73v12m0 37v16m0 5v3m1-74v13m0 37v16m0 5v3m1-140v3m0 64v12m0 36v17m0 5v3m1-139v10m0 58v10m0 28v25m0 5v3m1-116v10m0 8v10m0 53v27m0 5v3m1-143v15m0 14v10m0 2v16m0 50v28m0 5v3m1-148v20m0 16v5m0 3v20m0 46v30m0 5v3m1-146v13m0 32v24m0 38v31m0 5v3m1-161v7m0 34v11m0 10v23m0 35v33m0 5v3m1-125v20m0 7v22m0 35v33m0 4v4m1-142v2m0 19v16m0 8v19m0 37v33m0 4v4m1-142v2m0 19v16m0 8v19m0 37v33m0 4v4m1-142v2m0 19v16m0 8v19m0 37v33m0 4v4m1-142v2m0 19v16m0 8v19m0 37v33m0 4v4"/>
<path stroke="#46307e" d="M223.5 18v11m0 112v20m1-143v11m0 112v20m1-143v11m0 112v20m1-143v11m0 112v20m1-144v12m0 111v21m1-154v7m0 126v22m1-23v23m1-131v13m0 38v2m0 55v23m1-124v3m0 54v5m0 39v23m1-68v7m0 37v24m1-68v8m0 36v24m1-68v7m0 36v25m1-148v1m0 81v3m0 38v25m1-158v5m0 42v11m0 75v25m1-114v17m0 71v26m1-162v7m0 42v7m0 7v4m0 69v26m1-117v13m0 77v27m1-157v6m0 28v20m0 76v27m1-116v10m0 35v1m0 43v27m1-123v7m0 41v8m0 40v27m1-77v10m0 40v27m1-79v13m0 39v27m1-130v3m0 49v12m0 7v13m0 19v27m1-76v8m0 6v20m0 14v28m1-88v7m0 17v25m0 6v33m1-92v11m0 16v27m0 3v35m1-66v66m1-145v7m0 32v5m0 35v66m1-149v11m0 29v11m0 32v66m1-110v12m0 33v50m0 2v13m1-150v4m0 84v47m0 3v11m1-113v2m0 29v8m0 14v45m0 4v11m1-124v16m0 16v1m0 8v10m0 15v42m0 6v10m1-94v2m0 11v14m0 12v39m0 6v10m1-144v11m0 57v13m0 14v33m0 6v10m1-103v4m0 25v11m0 19v27m0 7v10m1-146v4m0 70v9m0 22v25m0 6v11m1-133v7m0 52v10m0 23v24m0 7v10m1-105v11m0 17v12m0 24v24m0 7v10m1-106v13m0 52v24m0 7v10m1-58v3m0 14v24m0 7v10m1-59v8m0 10v24m0 7v10m1-128v10m0 16v8m0 34v11m0 8v23m0 8v10m1-121v3m0 18v4m0 36v11m0 8v23m0 7v11m1-108v1m0 48v10m0 8v23m0 7v11m1-118v7m0 3v5m0 44v8m0 10v23m0 7v11m1-125v6m0 60v5m0 13v22m0 8v10m1-128v10m0 24v7m0 48v21m0 8v10m1-94v8m0 47v20m0 9v10m1-93v7m0 48v19m0 9v10m1-131v3m0 90v16m0 13v9m1-138v12m0 24v9m0 56v14m0 14v9m1-109v19m0 54v13m0 14v9m1-108v11m0 62v5m0 3v4m0 14v9m1-105v8m0 37v4m0 22v3m0 4v4m0 14v9m1-155v7m0 12v5m0 69v7m0 19v5m0 4v4m0 14v9m1-63v9m0 16v8m0 3v4m0 14v9m1-62v8m0 15v10m0 1v5m0 14v9m1-102v10m0 52v18m0 13v9m1-161v9m0 24v20m0 8v6m0 53v19m0 13v9m1-72v5m0 25v23m0 10v9m1-76v11m0 22v25m0 8v10m1-139v9m0 52v14m0 20v26m0 8v10m1-142v14m0 22v9m0 18v15m0 20v27m0 7v10m1-106v8m0 19v15m0 19v28m0 6v11m1-147v6m0 59v17m0 20v28m0 6v11m1-88v22m0 20v29m0 6v11m1-87v19m0 22v30m0 4v12m1-82v14m0 22v30m0 4v12m1-152v4m0 19v6m0 42v12m0 23v30m0 4v12m1-82v12m0 23v31m0 4v12m1-141v3m0 18v5m0 34v10m0 24v31m0 5v11m1-80v8m0 25v31m0 8v8m1-112v9m0 25v4m0 27v31m0 3v2m0 4v7m1-110v8m0 45v6m0 4v31m0 2v3m0 4v7m1-90v11m0 20v10m0 2v31m0 1v5m0 4v6m1-92v14m0 17v12m0 2v31m0 1v5m0 4v6m1-127v3m0 32v14m0 15v15m0 1v31m0 1v5m0 4v6m1-161v4m0 20v17m0 14v7m0 9v11m0 15v16m0 1v37m0 4v6m1-130v7m0 17v7m0 35v16m0 2v36m0 5v5m1-143v26m0 53v16m0 2v37m0 4v5m1-137v12m0 61v17m0 1v37m0 4v4m1-140v3m0 4v4m0 49v6m0 12v16m0 1v37m0 4v4m1-80v6m0 15v14m0 1v36m0 4v4m1-78v2m0 20v11m0 1v28m0 1v7m0 4v4m1-160v5m0 28v4m0 69v9m0 1v28m0 1v7m0 4v4m1-144v6m0 9v6m0 71v5m0 4v27m0 1v7m0 5v3m1-143v3m0 97v27m0 1v6m0 6v3m1-42v26m0 1v6m0 6v3m1-96v16m0 38v26m0 1v6m0 6v3m1-100v17m0 14v3m0 24v25m0 2v6m0 6v3m1-135v3m0 30v19m0 12v5m0 25v24m0 2v6m0 6v3m1-140v12m0 11v4m0 13v16m0 12v6m0 25v24m0 2v7m0 5v3m1-94v10m0 11v5m0 28v22m0 3v7m0 5v3m1-91v7m0 10v5m0 29v22m0 3v7m0 6v2m1-106v3m0 5v12m0 47v21m0 3v7m0 6v2m1-148v3m0 36v17m0 54v20m0 3v7m0 6v2m1-108v13m0 57v11m0 2v7m0 2v8m0 6v2m1-102v5m0 60v10m0 2v7m0 2v8m0 6v2m1-134v4m0 93v19m0 2v8m0 6v2m1-147v5m0 104v21m0 1v8m0 6v2m1-160v11m0 3v5m0 22v2m0 79v30m0 6v2m1-136v12m0 4v6m0 5v2m0 69v30m0 6v2m1-160v13m0 8v8m0 5v2m0 37v2m0 46v31m0 6v2m1-86v6m0 41v31m0 5v4m1-85v5m0 39v32m0 5v4m1-151v2m0 108v32m0 6v3m1-41v32m0 6v3m1-67v4m0 22v32m0 6v2m1-148v6m0 75v6m0 21v32m0 6v2m1-153v14m0 4v6m0 62v6m0 20v33m0 6v2m1-145v5m0 74v4m0 21v33m0 6v2m1-41v33m0 6v2m1-118v7m0 70v33m0 6v2m1-118v11m0 66v33m0 6v2m1-117v14m0 13v8m0 41v33m0 6v2m1-116v5m0 9v23m0 38v33m0 6v2m1-99v21m0 37v33m0 6v2m1-94v17m0 36v32m0 8v1m1-47v38m0 8v1m1-117v12m0 48v48m0 8v1m1-124v20m0 42v53m0 8v1m1-127v20m0 37v61m0 8v1m1-137v13m0 52v63m0 8v1m1-136v16m0 48v64m0 6v2m1-73v65m0 6v2m1-103v5m0 26v64m0 6v2m1-160v11m0 46v11m0 22v21m0 1v40m0 6v2m1-99v4m0 26v13m0 11v37m0 6v2m1-44v36m0 6v2m1-101v1m0 58v34m0 6v2m1-106v8m0 60v1m0 1v28m0 7v1m1-107v9m0 63v27m0 7v1m1-124v5m0 85v26m1-116v8m0 25v2m0 57v9m0 1v14m1-22v5m0 3v14m1-14v14m1-140v4m0 29v2m0 91v14m1-132v13m0 106v13m1-13v13m1-152v10m0 11v8m0 11v12m0 87v13m1-109v7m0 42v2m0 44v14m1-63v8m0 41v14m1-63v9m0 40v14m1-63v9m0 40v14m1-129v8m0 105v16m1-106v8m0 12v5m0 58v23m1-133v12m0 17v7m0 5v14m0 52v26m1-139v19m0 27v17m0 49v27m1-91v22m0 41v28m1-152v6m0 37v8m0 12v21m0 39v29m1-115v18m0 8v21m0 38v30m1-111v8m0 16v17m0 40v30m1-111v8m0 16v17m0 40v30m1-111v8m0 16v17m0 40v30m1-111v8m0 16v17m0 40v30"/>
<path stroke="#453882" d="M223.5 18v11m0 121v11m1-143v11m0 121v11m1-143v11m0 121v11m1-143v11m0 121v11m1-143v10m0 115v3m0 3v12m1-153v6m0 128v19m1-20v20m1-130v12m0 98v20m1-64v2m0 41v22m1-67v6m0 39v22m1-68v7m0 38v23m1-67v5m0 39v23m1-24v24m1-157v4m0 129v24m1-113v9m0 80v24m1-162v5m0 45v5m0 82v25m1-117v12m0 80v25m1-156v4m0 30v18m0 79v25m1-114v7m0 82v25m1-122v5m0 91v26m1-26v26m1-77v8m0 43v26m1-76v6m0 13v8m0 23v26m1-60v15m0 18v27m1-85v1m0 22v20m0 12v29m1-88v7m0 19v23m0 7v32m1-63v26m0 3v34m1-143v5m0 35v1m0 39v63m1-147v8m0 32v10m0 34v50m0 2v11m1-108v10m0 37v47m0 3v11m1-148v2m0 87v44m0 5v10m1-80v4m0 18v42m0 6v10m1-123v13m0 28v7m0 20v39m0 6v10m1-52v35m0 8v9m1-143v9m0 60v8m0 20v29m0 8v9m1-72v7m0 22v26m0 8v9m1-68v2m0 26v23m0 8v9m1-129v2m0 88v22m0 8v9m1-103v9m0 21v4m0 29v23m0 8v9m1-104v11m0 53v23m0 8v9m1-40v23m0 8v9m1-40v23m0 8v9m1-126v9m0 17v6m0 38v5m0 11v23m0 8v9m1-56v6m0 11v22m0 8v9m1-55v4m0 12v21m0 9v9m1-116v5m0 72v21m0 9v9m1-39v21m0 9v9m1-127v9m0 25v5m0 49v20m0 10v9m1-93v7m0 48v19m0 10v9m1-92v5m0 49v16m0 13v9m1-37v14m0 14v9m1-99v2m0 61v13m0 14v9m1-108v13m0 60v6m0 1v5m0 14v9m1-107v9m0 64v3m0 4v4m0 14v9m1-104v6m0 71v4m0 15v8m1-154v5m0 114v4m0 4v4m0 15v8m1-36v6m0 3v4m0 15v8m1-38v8m0 2v5m0 15v8m1-100v7m0 54v16m0 15v8m1-161v8m0 27v15m0 71v18m0 14v8m1-41v21m0 12v8m1-75v8m0 25v23m0 11v8m1-138v7m0 54v12m0 22v25m0 10v8m1-141v12m0 24v7m0 20v13m0 22v25m0 10v8m1-105v6m0 20v14m0 21v26m0 9v9m1-147v5m0 62v14m0 22v27m0 8v9m1-86v19m0 22v28m0 8v9m1-85v17m0 23v28m0 9v7m1-80v12m0 23v29m0 10v6m1-128v6m0 42v11m0 24v29m0 10v6m1-80v11m0 24v29m0 11v5m1-80v10m0 25v29m0 11v5m1-78v6m0 27v29m0 11v5m1-110v7m0 58v29m0 12v4m1-108v6m0 57v29m0 12v4m1-88v10m0 22v5m0 6v29m0 12v4m1-91v13m0 19v10m0 4v29m0 12v4m1-90v12m0 17v13m0 3v29m0 12v4m1-135v13m0 18v5m0 11v9m0 17v14m0 3v29m0 13v3m1-128v5m0 19v6m0 36v14m0 3v29m0 4v1m0 8v3m1-141v4m0 7v7m0 4v2m0 55v15m0 2v29m0 3v3m0 7v3m1-135v9m0 64v15m0 3v28m0 2v4m0 7v2m1-78v4m0 15v14m0 2v28m0 2v4m0 7v2m1-79v5m0 18v11m0 2v28m0 2v4m0 8v1m1-54v9m0 3v27m0 2v4m0 8v1m1-159v4m0 103v7m0 3v27m0 2v4m0 8v1m1-142v4m0 11v4m0 74v1m0 6v27m0 2v4m1-32v25m0 3v4m1-32v25m0 3v4m1-86v10m0 45v24m0 3v4m1-89v14m0 44v24m0 3v4m1-92v18m0 44v22m0 4v5m1-130v9m0 31v15m0 44v22m0 4v5m1-84v8m0 46v20m0 5v5m1-80v4m0 46v20m0 4v6m1-87v3m0 55v19m0 4v6m1-99v14m0 57v18m0 4v6m1-99v13m0 58v10m0 2v7m0 3v6m1-91v1m0 63v8m0 3v7m0 3v6m1-27v18m0 3v6m1-137v3m0 106v19m0 3v6m1-151v10m0 6v1m0 106v20m0 2v6m1-125v9m0 6v4m0 77v21m0 2v6m1-151v10m0 12v6m0 94v22m0 1v6m1-30v23m0 1v6m1-30v30m1-30v30m1-30v30m1-31v31m1-138v4m0 103v31m1-144v12m0 9v1m0 66v2m0 23v31m1-31v31m1-31v31m1-108v4m0 73v31m1-106v7m0 68v31m1-106v7m0 68v31m1-106v3m0 19v13m0 40v31m1-88v18m0 39v31m1-84v14m0 39v31m1-31v31m1-106v9m0 54v43m1-114v18m0 45v51m1-116v16m0 41v59m1-127v11m0 55v61m1-126v14m0 50v62m1-62v62m1-61v61m1-151v10m0 48v9m0 24v17m0 7v36m1-58v8m0 15v35m1-34v34m1-32v32m1-96v7m0 63v27m1-97v6m0 65v26m1-24v9m0 1v14m1-114v5m0 86v7m0 2v14m1-13v13m1-13v13m1-13v13m1-132v12m0 107v13m1-13v13m1-147v4m0 13v6m0 13v11m0 87v13m1-13v13m1-60v2m0 45v13m1-61v4m0 44v13m1-13v13m1-128v6m0 108v14m1-105v6m0 82v17m1-132v10m0 18v5m0 8v12m0 55v24m1-138v17m0 29v15m0 51v26m1-91v20m0 44v27m1-152v6m0 57v21m0 40v28m1-114v16m0 10v19m0 41v28m1-110v6m0 18v15m0 44v27m1-110v6m0 18v15m0 44v27m1-110v6m0 18v15m0 44v27m1-110v6m0 18v15m0 44v27"/>
<path stroke="#424086" d="M223.5 19v9m0 123v9m1-141v9m0 123v9m1-141v9m0 123v9m1-141v9m0 123v9m1-142v10m0 122v11m1-152v3m0 138v11m1-17v2m0 3v12m1-129v10m0 100v19m1-19v19m1-66v5m0 41v20m1-66v6m0 40v20m1-65v4m0 40v21m1-21v21m1-22v22m1-111v6m0 83v22m1-161v4m0 47v3m0 84v23m1-115v11m0 81v23m1-120v17m0 80v23m1-111v3m0 85v23m1-121v5m0 92v24m1-24v24m1-24v24m1-24v24m1-58v12m0 21v25m1-60v18m0 17v25m1-61v21m0 10v30m1-62v24m0 5v33m1-142v3m0 77v25m0 3v21m0 2v11m1-146v5m0 34v9m0 37v47m0 4v10m1-107v8m0 39v45m0 5v10m1-58v42m0 7v9m1-56v40m0 7v9m1-122v6m0 36v2m0 25v36m0 8v9m1-49v31m0 9v9m1-143v8m0 90v27m0 9v9m1-42v24m0 10v8m1-39v21m0 10v8m1-39v21m0 10v8m1-102v6m0 57v21m0 10v8m1-104v10m0 55v21m0 10v8m1-39v21m0 10v8m1-39v21m0 10v8m1-126v8m0 19v4m0 56v21m0 10v8m1-39v21m0 10v8m1-39v21m0 10v8m1-115v3m0 73v20m0 11v8m1-38v19m0 11v8m1-126v6m0 28v3m0 51v18m0 12v8m1-93v6m0 50v16m0 13v8m1-91v2m0 52v15m0 14v8m1-36v13m0 15v7m1-34v12m0 15v7m1-106v11m0 62v4m0 3v3m0 16v7m1-105v8m0 71v3m0 16v7m1-101v3m0 72v3m0 17v6m1-151v2m0 123v3m0 17v6m1-34v4m0 4v4m0 16v6m1-36v7m0 3v4m0 16v6m1-98v4m0 57v15m0 16v6m1-156v3m0 30v12m0 73v16m0 16v6m1-39v18m0 15v6m1-73v6m0 27v21m0 13v6m1-136v5m0 55v11m0 24v23m0 13v5m1-140v11m0 26v4m0 22v12m0 23v24m0 13v5m1-103v3m0 23v12m0 23v25m0 12v5m1-145v4m0 63v12m0 23v26m0 12v5m1-83v17m0 23v26m0 12v5m1-81v14m0 23v27m0 12v5m1-79v11m0 24v28m0 12v4m1-127v4m0 44v10m0 25v28m0 12v3m1-79v10m0 25v29m0 12v3m1-78v8m0 26v29m0 13v2m1-77v5m0 28v29m0 13v2m1-108v5m0 59v29m1-91v5m0 57v29m1-71v8m0 34v29m1-74v12m0 21v6m0 6v29m1-74v12m0 18v10m0 5v29m1-118v10m0 22v1m0 14v8m0 18v12m0 5v28m1-110v2m0 21v4m0 38v13m0 4v28m1-45v13m0 4v28m1-117v4m0 68v14m0 3v28m1-62v1m0 18v12m0 4v27m1-63v3m0 20v10m0 3v26m1-37v8m0 3v26m1-35v5m0 5v25m0 4v2m1-116v2m0 83v25m0 4v2m1-30v24m0 4v2m1-30v24m0 4v2m1-84v8m0 46v23m0 5v2m1-87v12m0 46v22m0 5v2m1-90v16m0 45v22m0 5v3m1-128v7m0 33v13m0 46v20m0 5v4m1-81v5m0 47v20m0 5v4m1-28v18m0 6v4m1-27v18m0 5v4m1-98v12m0 59v18m0 5v4m1-97v11m0 60v8m0 3v6m0 5v4m1-25v7m0 3v6m0 5v4m1-25v16m0 5v4m1-26v18m0 4v4m1-146v4m0 115v19m0 4v4m1-122v6m0 89v20m0 3v4m1-127v4m0 95v21m0 3v4m1-28v22m0 2v4m1-28v22m0 1v6m1-30v23m0 1v6m1-30v30m1-30v29m1-29v29m1-142v10m0 102v30m1-30v30m1-30v30m1-30v30m1-102v2m0 70v30m1-30v30m1-83v13m0 40v30m1-85v15m0 40v30m1-82v12m0 40v30m1-30v30m1-104v7m0 68v29m1-112v17m0 48v47m1-106v6m0 48v52m1-126v9m0 58v59m1-124v12m0 52v61m1-61v61m1-60v21m0 2v37m1-151v10m0 49v6m0 27v13m0 11v35m1-34v34m1-33v33m1-26v26m1-95v5m0 65v25m1-95v4m0 67v24m1-22v7m0 2v13m1-12v12m1-12v12m1-12v12m1-12v12m1-130v9m0 109v13m1-13v13m1-129v5m0 15v8m0 89v12m1-12v12m1-12v12m1-13v13m1-13v13m1-127v5m0 109v13m1-105v5m0 86v14m1-131v8m0 21v2m0 10v11m0 58v21m1-137v15m0 30v14m0 54v24m1-90v18m0 47v25m1-152v5m0 59v19m0 43v25m1-113v14m0 13v18m0 43v25m1-108v4m0 20v13m0 47v24m1-108v4m0 20v13m0 47v24m1-108v4m0 20v13m0 47v24m1-108v4m0 20v13m0 47v24"/>
<path stroke="#3f4788" d="M223.5 20v7m0 125v8m1-140v7m0 125v8m1-140v7m0 125v8m1-140v7m0 125v8m1-141v8m0 125v8m1-9v9m1-9v9m1-126v7m0 109v11m1-17v2m0 3v12m1-65v3m0 44v18m1-65v4m0 42v19m1-64v2m0 42v20m1-20v20m1-21v21m1-109v2m0 86v21m1-21v21m1-114v9m0 83v22m1-119v15m0 82v22m1-22v22m1-120v3m0 94v23m1-23v23m1-23v23m1-24v24m1-56v8m0 24v24m1-58v14m0 19v25m1-60v19m0 16v25m1-60v21m0 8v18m0 2v11m1-141v1m0 80v22m0 5v19m0 4v9m1-105v8m0 38v24m0 2v19m0 6v8m1-105v5m0 43v42m0 7v8m1-55v40m0 7v8m1-53v37m0 9v7m1-120v2m0 68v33m0 10v7m1-47v29m0 11v7m1-141v6m0 92v26m0 10v7m1-40v23m0 10v7m1-37v20m0 10v7m1-37v20m0 11v6m1-38v21m0 11v6m1-102v8m0 56v21m0 11v6m1-38v21m0 11v6m1-38v21m0 11v6m1-124v5m0 81v21m0 11v6m1-37v20m0 10v7m1-37v19m0 11v7m1-37v19m0 11v7m1-37v18m0 12v7m1-123v3m0 84v17m0 13v6m1-91v4m0 51v15m0 15v6m1-35v13m0 16v6m1-34v12m0 16v6m1-33v10m0 17v6m1-104v7m0 65v2m0 4v3m0 17v6m1-104v6m0 72v3m0 17v6m1-26v3m0 18v5m1-26v3m0 18v5m1-33v3m0 4v3m0 18v5m1-35v6m0 3v3m0 18v5m1-36v8m0 1v5m0 17v4m1-119v7m0 75v16m0 18v3m1-38v18m0 17v3m1-70v3m0 28v20m0 16v3m1-135v5m0 56v9m0 26v21m0 15v3m1-137v8m0 54v11m0 24v23m0 14v3m1-76v12m0 23v24m0 14v3m1-144v3m0 64v12m0 24v24m0 15v1m1-78v13m0 24v26m0 14v1m1-77v11m0 25v26m1-62v10m0 25v27m1-109v2m0 45v10m0 25v27m1-62v9m0 26v27m1-62v8m0 27v27m1-60v4m0 29v27m1-92v5m0 60v27m1-90v4m0 59v28m1-70v6m0 36v27m1-73v12m0 34v27m1-72v11m0 20v7m0 7v27m1-116v4m0 43v6m0 20v10m0 6v27m1-85v2m0 39v12m0 5v27m1-44v13m0 5v26m1-43v12m0 5v26m1-41v11m0 4v26m1-38v8m0 4v26m1-36v6m0 5v25m1-34v2m0 7v25m1-24v24m1-24v23m1-23v23m1-76v6m0 48v22m1-80v11m0 47v22m1-82v14m0 47v20m1-117v3m0 35v12m0 47v20m1-71v3m0 49v18m0 8v1m1-26v17m0 7v2m1-26v17m0 7v2m1-96v10m0 61v9m0 1v6m0 7v2m1-95v9m0 62v7m0 4v5m0 6v2m1-23v6m0 3v6m0 6v2m1-24v8m0 1v7m0 6v2m1-24v16m0 6v2m1-25v18m0 5v2m1-119v2m0 91v19m0 5v3m1-27v20m0 3v4m1-28v21m0 3v4m1-28v21m0 3v4m1-28v22m0 2v4m1-28v22m0 2v4m1-29v23m0 2v4m1-29v23m0 2v4m1-142v9m0 104v24m0 1v4m1-29v24m0 1v4m1-29v24m0 1v4m1-29v24m0 1v4m1-29v24m0 1v4m1-29v24m0 1v4m1-82v11m0 42v24m0 1v4m1-84v14m0 41v24m0 1v4m1-81v9m0 43v24m0 1v4m1-29v29m1-102v3m0 70v29m1-111v15m0 52v10m0 5v29m1-49v20m0 1v28m1-125v6m0 63v56m1-123v9m0 56v58m1-58v58m1-58v17m0 7v34m1-146v5m0 52v2m0 31v8m0 15v33m1-32v32m1-31v5m0 1v25m1-24v25m1-95v4m0 67v24m1-93v1m0 69v9m0 2v12m1-21v4m0 5v12m1-12v12m1-12v12m1-11v11m1-11v11m1-129v5m0 113v11m1-11v11m1-128v4m0 17v6m0 90v11m1-11v11m1-11v11m1-11v11m1-11v11m1-125v2m0 111v12m1-103v4m0 87v12m1-128v5m0 35v9m0 65v14m1-136v15m0 31v13m0 56v21m1-89v16m0 50v23m1-151v4m0 60v18m0 46v23m1-112v11m0 15v17m0 46v23m1-84v12m0 51v21m1-84v12m0 51v21m1-84v12m0 51v21m1-84v12m0 51v21"/>
<path stroke="#3c4f8a" d="M223.5 21v6m0 126v6m1-138v6m0 126v6m1-138v6m0 126v6m1-138v6m0 126v6m1-139v6m0 127v7m1-8v8m1-8v8m1-124v3m0 112v9m1-9v9m1-63v1m0 52v11m1-65v3m0 45v2m0 4v11m1-18v18m1-19v19m1-20v20m1-20v20m1-21v21m1-114v8m0 85v21m1-118v14m0 83v21m1-22v22m1-22v22m1-22v22m1-23v23m1-23v22m1-53v4m0 26v23m1-56v12m0 21v23m1-58v17m0 18v23m1-58v19m0 10v4m0 1v11m0 4v9m1-58v21m0 6v17m0 6v8m1-104v6m0 40v22m0 3v19m0 6v8m1-56v21m0 1v19m0 8v7m1-54v38m0 9v7m1-52v35m0 10v7m1-49v31m0 12v6m1-45v27m0 12v6m1-140v4m0 94v24m0 12v6m1-39v21m0 12v6m1-37v20m0 11v6m1-37v20m0 11v6m1-37v20m0 11v6m1-101v6m0 58v20m0 11v6m1-37v20m0 11v6m1-37v20m0 11v6m1-37v19m0 12v6m1-37v19m0 12v6m1-37v19m0 12v6m1-37v18m0 13v6m1-36v17m0 13v6m1-36v16m0 14v6m1-91v4m0 52v14m0 15v5m1-34v13m0 17v4m1-33v11m0 18v4m1-32v5m0 1v4m0 18v4m1-102v5m0 72v3m0 18v4m1-102v4m0 73v3m0 18v4m1-25v3m0 19v3m1-25v3m0 19v2m1-24v3m0 19v2m1-32v4m0 4v3m0 20v1m1-33v6m0 2v4m1-14v15m1-16v17m1-18v18m1-114v3m0 58v7m0 27v21m1-117v4m0 56v10m0 25v22m1-58v11m0 25v23m1-126v1m0 66v11m0 24v24m1-60v11m0 25v24m1-60v10m0 25v26m1-61v9m0 26v26m1-62v9m0 27v26m1-62v8m0 27v27m1-61v6m0 28v27m1-59v2m0 30v27m1-91v3m0 61v27m1-27v27m1-68v4m0 37v27m1-72v10m0 35v27m1-72v10m0 22v5m0 8v27m1-68v4m0 22v8m0 7v27m1-43v10m0 7v26m1-43v11m0 6v26m1-42v10m0 6v26m1-39v8m0 6v25m1-37v6m0 6v25m1-35v4m0 6v24m1-23v23m1-23v23m1-23v23m1-22v22m1-75v4m0 49v21m1-78v10m0 48v20m1-81v14m0 47v20m1-78v10m0 49v18m1-18v18m1-17v16m1-15v16m1-86v7m0 63v9m0 2v5m1-85v8m0 62v7m0 5v3m1-14v6m0 4v4m1-14v7m0 2v5m1-15v15m1-16v17m1-17v18m1-19v19m1-19v20m0 4v2m1-26v20m0 4v2m1-27v21m0 4v2m1-27v22m0 3v2m1-27v22m0 3v2m1-27v22m0 3v2m1-140v7m0 105v23m0 3v2m1-28v23m0 3v2m1-28v23m0 3v2m1-28v24m0 2v2m1-28v24m0 2v2m1-28v24m0 2v2m1-80v9m0 43v24m0 2v2m1-82v12m0 42v24m0 2v2m1-80v8m0 44v24m0 2v2m1-28v24m0 1v3m1-27v22m0 2v3m1-109v14m0 68v22m0 1v4m1-46v13m0 6v27m1-122v2m0 69v23m0 1v27m1-121v7m0 59v55m1-56v18m0 5v34m1-56v13m0 10v33m1-146v4m0 89v1m0 20v32m1-31v5m0 1v25m1-24v24m1-23v23m1-93v3m0 68v9m0 2v11m1-21v7m0 3v11m1-11v11m1-11v12m1-11v11m1-11v11m1-11v11m1-128v2m0 115v11m1-11v11m1-126v1m0 19v5m0 90v11m1-11v11m1-11v11m1-11v11m1-11v11m1-11v11m1-102v2m0 89v11m1-87v7m0 68v12m1-135v13m0 32v12m0 64v14m1-88v13m0 54v21m1-86v17m0 48v21m1-111v9m0 17v15m0 49v20m1-82v9m0 60v13m1-82v9m0 60v13m1-82v9m0 60v13m1-82v9m0 60v13"/>
<path stroke="#39558c" d="M223.5 21v5m0 128v5m1-138v5m0 128v5m1-138v5m0 128v5m1-138v5m0 128v5m1-138v4m0 129v5m1-6v6m1-6v7m1-8v8m1-8v8m1-9v9m1-63v1m0 53v9m1-10v10m1-17v4m0 3v10m1-18v18m1-18v18m1-19v19m1-112v6m0 87v19m1-117v13m0 84v20m1-20v20m1-20v20m1-21v21m1-21v21m1-22v22m1-22v22m1-55v9m0 24v22m1-57v15m0 19v11m0 3v9m1-57v17m0 17v10m0 5v8m1-57v19m0 8v16m0 7v6m1-103v5m0 42v20m0 5v17m0 8v6m1-54v20m0 2v17m0 10v5m1-52v36m0 11v5m1-50v33m0 12v5m1-47v29m0 13v5m1-43v26m0 13v4m1-138v1m0 97v23m0 13v4m1-37v20m0 13v4m1-36v19m0 13v4m1-36v19m0 13v4m1-36v19m0 13v4m1-99v3m0 60v19m0 13v4m1-36v19m0 13v4m1-36v19m0 13v4m1-36v19m0 13v4m1-36v19m0 13v4m1-36v18m0 14v4m1-35v17m0 14v4m1-35v16m0 15v4m1-35v15m0 16v4m1-34v13m0 17v4m1-33v12m0 18v2m1-31v10m0 19v2m1-30v3m0 3v2m0 20v2m1-24v3m1-3v3m1-2v2m1-3v3m1-3v3m1-9v2m0 4v3m1-12v6m0 3v3m1-13v14m1-15v15m1-16v17m1-53v7m0 28v19m1-55v9m0 26v21m1-57v10m0 25v22m1-58v10m0 26v23m1-59v9m0 26v24m1-59v8m0 27v24m1-60v8m0 27v25m1-60v8m0 27v25m1-61v8m0 28v26m1-61v6m0 29v26m1-27v27m1-27v27m1-27v27m1-67v2m0 38v27m1-72v10m0 35v27m1-71v9m0 36v26m1-41v6m0 9v26m1-42v8m0 8v26m1-42v9m0 7v26m1-41v8m0 8v24m1-36v5m0 7v24m1-34v3m0 7v24m1-23v23m1-23v23m1-23v23m1-22v22m1-22v21m1-73v1m0 52v20m1-78v9m0 49v20m1-80v12m0 49v18m1-76v9m0 49v18m1-17v16m1-15v15m1-15v14m1-84v6m0 65v8m0 2v4m1-83v6m0 64v6m0 5v3m1-13v5m0 5v3m1-13v6m0 2v5m1-14v14m1-15v16m1-17v17m1-17v18m1-19v19m1-19v20m1-20v20m1-21v21m1-21v22m1-22v22m1-134v5m0 107v22m1-22v22m1-23v23m1-23v23m1-23v23m1-23v23m1-75v8m0 44v23m1-77v11m0 43v23m1-73v4m0 47v22m1-22v22m1-22v22m1-103v12m0 69v22m0 3v1m1-43v6m0 11v22m0 2v2m1-47v12m0 10v20m0 2v4m1-120v5m0 62v16m0 7v3m0 1v26m1-54v14m0 9v31m1-54v8m0 15v31m1-144v2m0 112v5m0 1v24m1-29v3m0 2v24m1-23v24m1-23v11m0 1v11m1-21v8m0 2v11m1-19v3m0 5v11m1-10v10m1-10v10m1-10v10m1-10v10m1-10v10m1-9v10m1-10v10m1-10v10m1-10v10m1-10v10m1-10v10m1-10v10m1-10v10m1-11v11m1-86v5m0 70v10m1-134v12m0 34v10m0 67v11m1-87v12m0 62v13m1-85v16m0 52v17m1-110v8m0 18v14m0 57v13m1-81v7m0 64v10m1-81v7m0 64v10m1-81v7m0 64v10m1-81v7m0 64v10"/>
<path stroke="#365c8d" d="M223.5 22v3m0 130v3m1-136v3m0 130v3m1-136v3m0 130v3m1-136v3m0 130v3m1-136v2m0 131v3m1-4v5m1-5v5m1-6v6m1-6v6m1-7v8m1-8v8m1-8v8m1-9v9m1-16v2m0 5v9m1-17v5m0 1v11m1-18v18m1-111v4m0 89v18m1-116v12m0 85v19m1-19v19m1-20v20m1-20v20m1-21v21m1-21v21m1-21v20m1-53v6m0 26v10m0 4v7m1-55v12m0 22v9m0 6v6m1-56v16m0 18v9m0 7v6m1-55v17m0 10v4m0 2v8m0 9v5m1-102v3m0 44v19m0 6v16m0 9v4m1-52v18m0 3v17m0 11v3m1-50v17m0 2v15m0 13v3m1-48v31m0 14v3m1-45v28m0 14v3m1-41v24m0 15v2m1-38v22m0 14v2m1-35v19m0 14v2m1-34v18m0 14v2m1-34v18m0 14v2m1-35v19m0 14v1m1-34v19m1-19v19m0 14v2m1-35v19m0 14v2m1-35v19m0 14v2m1-34v17m0 15v2m1-34v17m0 15v2m1-34v17m0 15v2m1-34v16m0 16v2m1-33v14m1-14v13m1-12v11m1-10v9m1-1v1m1-1v1m1-1v2m1-2v2m1-2v2m1-2v2m1-2v2m1-11v5m0 3v3m1-12v12m1-14v15m1-16v17m1-52v5m0 29v19m1-55v8m0 27v20m1-56v9m0 27v21m1-57v9m0 26v22m1-58v9m0 26v24m1-59v8m0 27v24m1-59v7m0 28v24m1-60v7m0 28v25m1-60v7m0 28v25m1-60v5m0 30v25m1-25v25m1-25v25m1-25v25m1-25v25m1-70v8m0 37v25m1-70v8m0 37v25m1-39v3m0 11v25m1-40v6m0 9v25m1-40v7m0 9v24m1-38v5m0 9v24m1-34v1m0 9v24m1-23v23m1-23v23m1-23v23m1-22v21m1-21v21m1-20v20m1-20v20m1-77v8m0 50v18m1-79v12m0 49v18m1-76v8m0 51v17m1-17v16m1-15v14m1-13v13m1-83v4m0 67v6m0 4v1m1-80v4m0 66v5m0 6v1m1-12v4m0 7v1m1-12v5m0 3v4m1-13v13m1-14v15m1-15v16m1-17v17m1-17v18m1-19v19m1-19v20m1-20v20m1-21v21m1-21v21m1-132v3m0 108v22m1-22v22m1-22v22m1-22v22m1-22v22m1-22v22m1-74v6m0 46v22m1-76v10m0 44v22m1-22v22m1-22v22m1-22v22m1-103v12m0 69v22m1-21v20m1-39v6m0 13v20m1-44v11m0 13v20m0 3v2m1-52v11m0 13v2m0 2v24m1-29v4m0 1v25m1-29v3m0 2v24m1-23v23m1-22v22m1-21v9m0 2v10m1-20v7m0 4v9m1-9v10m1-10v10m1-10v10m1-10v10m1-9v9m1-9v9m1-9v9m1-9v9m1-9v9m1-9v9m1-9v9m1-9v9m1-9v9m1-9v9m1-9v9m1-83v1m0 72v10m1-133v11m0 34v10m0 68v10m1-86v10m0 65v11m1-84v14m0 59v11m1-109v6m0 20v12m0 61v9m1-79v5m0 66v8m1-79v5m0 66v8m1-79v5m0 66v8m1-79v5m0 66v8"/>
<path stroke="#33638d" d="M228.5 155v3m1-3v3m1-4v5m1-5v5m1-6v6m1-6v6m1-6v6m1-7v8m1-8v8m1-16v2m0 6v8m1-17v5m0 3v9m1-18v18m1-116v11m0 87v18m1-19v18m1-18v18m1-19v19m1-19v19m1-20v11m0 1v8m1-20v9m0 5v6m1-20v8m0 6v6m1-54v10m0 23v9m0 7v4m1-54v14m0 20v8m0 8v4m1-54v16m0 18v7m0 10v3m1-53v17m0 8v14m0 12v1m1-50v16m0 5v15m1-34v16m0 2v14m1-30v14m0 1v14m1-26v26m1-23v24m1-21v21m1-17v17m1-17v18m1-18v18m1-18v18m1-18v18m1-18v18m1-18v18m1-18v17m1-17v17m1-17v17m1-17v16m1-15v14m1-14v14m1-13v12m1-11v10m1-9v8m1-1v1m1-1v1m1-1v1m1-1v1m1-1v2m1-2v2m1-2v2m1-10v3m0 5v2m1-12v12m1-13v14m1-15v15m1-51v4m0 31v17m1-54v8m0 28v19m1-55v8m0 27v21m1-57v8m0 27v22m1-57v8m0 27v22m1-57v7m0 27v24m1-59v6m0 29v24m1-60v7m0 29v24m1-60v6m0 29v25m1-59v4m0 30v25m1-25v25m1-25v25m1-25v25m1-25v25m1-70v8m0 37v25m1-69v7m0 37v25m1-25v25m1-39v3m0 12v24m1-38v3m0 11v24m1-24v24m1-23v23m1-23v23m1-23v23m1-22v21m1-21v21m1-20v20m1-20v20m1-20v19m1-76v7m0 51v18m1-78v10m0 50v18m1-75v6m0 52v16m1-15v15m1-15v14m1-13v12m1-11v6m1-74v2m0 67v4m1-3v3m1-3v4m0 4v1m1-10v12m1-13v14m1-15v15m1-16v17m1-17v18m1-18v18m1-19v19m1-19v20m1-20v20m1-21v21m1-21v21m1-21v21m1-21v21m1-21v22m1-22v22m1-22v22m1-74v5m0 47v22m1-76v9m0 45v22m1-22v22m1-22v22m1-21v20m1-101v10m0 71v20m1-20v20m1-20v20m1-38v1m0 18v18m1-18v18m1-17v23m1-22v22m1-22v13m0 1v8m1-21v11m0 2v9m1-21v9m0 3v9m1-19v5m0 5v9m1-9v9m1-9v9m1-8v9m1-9v9m1-9v9m1-9v9m1-9v9m1-9v9m1-9v9m1-8v8m1-8v8m1-8v8m1-8v8m1-9v9m1-9v9m1-9v9m1-132v9m0 36v8m0 69v10m1-86v10m0 66v10m1-84v13m0 61v9m1-107v5m0 20v11m0 63v8m1-78v2m0 70v5m1-77v2m0 70v5m1-77v2m0 70v5m1-77v2m0 70v5"/>
<path stroke="#30698e" d="M229.5 156v1m1-2v3m1-3v3m1-4v5m1-5v5m1-5v5m1-6v6m1-6v6m1-6v6m1-14v1m0 7v6m1-16v4m0 6v6m1-114v10m0 88v5m0 5v6m1-17v7m0 3v7m1-18v8m0 3v7m1-18v8m0 4v6m1-19v9m0 4v6m1-19v8m0 5v5m1-19v8m0 7v4m1-19v8m0 8v3m1-52v8m0 25v7m0 9v3m1-53v12m0 21v7m1-40v15m0 18v6m1-38v15m0 9v6m0 2v5m1-35v15m0 6v13m1-32v14m0 3v13m1-28v13m0 2v13m1-25v10m0 1v14m1-22v23m1-19v19m1-16v16m1-17v17m1-17v17m1-17v17m1-17v17m1-17v17m1-17v17m1-17v17m1-17v17m1-17v16m1-15v15m1-15v14m1-13v12m1-12v12m1-11v10m1-8v3m0 1v2m2 0v1m1-1v1m1-1v1m1-1v1m1-1v1m1-1v1m1-7v1m0 5v1m1-10v6m0 1v4m1-13v14m1-15v15m1-49v1m0 32v17m1-53v6m0 29v19m1-55v7m0 28v20m1-55v7m0 28v21m1-57v7m0 28v22m1-57v6m0 29v22m1-57v5m0 29v23m1-58v5m0 30v24m1-60v6m0 30v24m1-59v3m0 31v25m1-25v25m1-25v25m1-25v25m1-25v25m1-69v7m0 37v25m1-69v6m0 39v24m1-24v24m1-24v24m1-24v24m1-23v23m1-23v22m1-22v22m1-21v21m1-21v21m1-21v21m1-20v20m1-20v19m1-18v18m1-75v6m0 51v18m1-78v10m0 51v16m1-73v5m0 52v16m1-15v14m1-13v13m1-12v11m1-10v5m1-4v3m2-3v4m1-5v11m1-12v13m1-14v15m1-15v16m1-17v17m1-17v18m1-18v18m1-19v19m1-19v20m1-20v20m1-20v20m1-21v21m1-21v21m1-21v21m1-21v21m1-21v21m1-72v3m0 48v21m1-74v7m0 46v21m1-21v21m1-20v20m1-20v20m1-100v9m0 71v20m1-20v20m1-19v18m1-18v18m1-17v16m1-16v16m1-15v14m0 1v6m1-20v12m0 2v7m1-20v9m0 3v8m1-19v7m0 4v8m1-16v1m0 7v9m1-8v8m1-8v8m1-8v8m1-8v8m1-8v8m1-8v9m1-8v8m1-8v8m1-8v8m1-8v8m1-8v8m1-8v8m1-8v8m1-8v8m1-8v8m1-9v8m1-131v8m0 37v7m0 71v8m1-84v8m0 68v8m1-83v11m0 64v8m1-107v4m0 22v8m0 66v6m1-3v2m1-2v2m1-2v2m1-2v2"/>
<path stroke="#2e6f8e" d="M231.5 156v1m1-2v3m1-3v3m1-3v3m1-4v4m1-4v5m1-5v5m1-5v5m1-5v5m1-113v8m0 89v4m0 7v4m1-15v5m0 6v4m1-16v6m0 6v4m1-17v7m0 6v4m1-17v7m0 6v4m1-18v7m0 8v3m1-18v7m0 8v2m1-17v6m1-38v4m0 27v7m1-40v10m0 23v6m1-39v13m0 20v5m1-37v14m0 10v4m0 4v3m1-33v13m0 7v8m1-26v13m0 4v10m1-25v11m0 3v12m1-23v9m0 1v14m1-21v6m0 1v14m1-15v16m1-16v16m1-16v16m1-17v17m1-17v17m1-17v17m1-17v17m1-17v17m1-17v17m1-17v17m1-16v15m1-15v15m1-15v14m1-13v12m1-11v10m1-9v8m5-1v1m1-1v1m1-1v1m1-1v1m1-1v1m1-9v4m0 3v2m1-11v12m1-13v14m1-15v16m1-53v6m0 30v17m1-54v7m0 29v19m1-55v7m0 28v20m1-55v6m0 28v22m1-56v5m0 29v22m1-57v4m0 30v23m1-58v5m0 30v23m1-58v4m0 31v23m1-57v1m0 33v23m1-23v23m1-23v24m1-24v24m1-24v24m1-68v5m0 39v23m1-67v5m0 39v23m1-23v23m1-23v23m1-23v23m1-22v22m1-22v22m1-21v21m1-21v21m1-21v21m1-20v20m1-20v19m1-18v18m1-18v18m1-75v5m0 53v16m1-76v8m0 52v16m1-72v3m0 54v15m1-15v14m1-13v12m1-11v10m1-9v5m1-3v2m2-2v2m1-3v10m1-11v12m1-13v14m1-15v15m1-15v16m1-17v17m1-17v18m1-18v18m1-19v19m1-19v20m1-20v20m1-20v20m1-20v20m1-20v20m1-20v20m1-20v20m1-20v20m1-74v6m0 48v20m1-20v20m1-20v20m1-20v20m1-99v7m0 72v20m1-19v18m1-18v18m1-18v18m1-17v16m1-15v14m1-14v13m1-12v11m0 3v6m1-19v9m0 4v6m1-17v5m0 6v7m1-7v7m1-7v7m1-7v8m1-8v8m1-7v7m1-7v7m1-7v7m1-7v7m1-7v7m1-7v7m1-7v7m1-7v7m1-7v7m1-7v7m1-7v7m1-7v7m1-7v7m1-130v5m0 40v6m0 72v7m1-84v7m0 70v7m1-82v9m0 66v6m1-104v1m0 23v7m0 68v5"/>
<path stroke="#2b758e" d="M233.5 156v1m1-1v1m1-2v3m1-3v3m1-3v3m1-3v3m1-3v3m1-112v8m0 101v3m1-15v4m0 8v3m1-15v4m0 8v2m1-15v5m0 9v1m1-16v6m1-6v6m1-6v5m1-6v6m1-6v5m1-37v7m0 25v4m1-37v11m0 22v3m1-35v12m1-10v12m0 8v6m1-24v11m0 5v10m1-24v10m0 3v12m1-22v7m0 2v14m1-20v4m0 2v14m1-15v15m1-15v16m1-16v16m1-16v16m1-16v16m1-17v17m1-17v17m1-17v17m1-16v16m1-16v15m1-15v15m1-15v14m1-13v13m1-13v12m1-11v10m1-9v8m10-9v4m0 3v1m1-9v11m1-13v14m1-15v15m1-52v5m0 31v17m1-53v6m0 29v19m1-55v6m0 29v20m1-55v6m0 29v21m1-55v3m0 30v22m1-56v3m0 31v22m1-57v3m0 31v23m1-58v4m0 31v23m1-23v23m1-23v23m1-23v23m1-23v23m1-23v23m1-67v5m0 39v23m1-67v4m0 40v23m1-23v23m1-23v23m1-22v22m1-22v22m1-22v22m1-21v21m1-21v21m1-20v20m1-20v19m1-19v19m1-18v18m1-18v18m1-74v4m0 53v16m1-76v8m0 52v16m1-15v14m1-13v13m1-13v12m1-11v10m1-8v4m3-2v1m1-3v9m1-10v11m1-12v13m1-14v15m1-15v16m1-17v17m1-17v18m1-18v18m1-18v18m1-19v19m1-19v19m1-19v20m1-20v20m1-20v20m1-20v20m1-20v20m1-20v20m1-73v4m0 49v20m1-20v20m1-20v20m1-20v20m1-97v4m0 74v18m1-18v18m1-18v18m1-17v16m1-16v16m1-15v14m1-13v12m1-11v10m1-9v7m0 6v4m1-16v5m0 7v5m1-6v7m1-6v6m1-6v6m1-6v6m1-6v7m1-7v7m1-7v7m1-7v7m1-7v7m1-6v6m1-6v6m1-6v6m1-6v6m1-6v6m1-6v6m1-6v6m1-7v7m1-128v1m0 42v5m0 73v7m1-83v5m0 72v5m1-81v8m0 68v5m1-79v5"/>
<path stroke="#297b8e" d="M240.5 47v6m2 90v3m1-3v4m1-5v5m1-5v4m1-5v5m1-5v4m1-4v3m1-34v3m0 28v2m1-34v8m1-8v10m1-8v10m0 9v6m1-23v9m0 7v8m1-22v8m0 5v11m1-21v5m0 4v12m1-13v14m1-14v14m1-15v15m1-15v16m1-16v16m1-16v16m1-16v16m1-16v16m1-16v16m1-16v15m1-15v15m1-15v15m1-15v14m1-13v12m1-11v11m1-11v10m1-8v6m10-7v2m1-4v11m1-12v13m1-15v15m1-51v4m0 31v17m1-53v5m0 30v18m1-53v5m0 30v19m1-54v4m0 30v20m1-53v1m0 31v22m1-22v22m1-57v3m0 32v22m1-57v2m0 32v23m1-23v23m1-23v23m1-23v23m1-23v23m1-23v23m1-66v3m0 40v23m1-66v3m0 40v23m1-23v23m1-22v22m1-22v22m1-22v22m1-21v21m1-21v21m1-21v21m1-20v19m1-19v19m1-18v18m1-18v18m1-17v16m1-72v2m0 54v16m1-75v7m0 53v15m1-15v14m1-13v12m1-11v11m1-10v6m1-5v3m4-3v5m0 2v2m1-10v11m1-12v13m1-13v14m1-15v15m1-15v16m1-17v17m1-17v18m1-18v18m1-19v19m1-19v19m1-19v19m1-19v19m1-19v20m1-20v20m1-20v20m1-20v20m1-72v2m0 50v20m1-20v20m1-20v20m1-19v18m1-18v18m1-18v18m1-18v18m1-17v16m1-16v15m1-14v14m1-13v12m1-11v9m1-8v7m1-5v2m0 9v4m1-4v5m1-5v5m1-5v6m1-6v6m1-6v6m1-5v5m1-5v6m1-6v6m1-6v6m1-6v6m1-6v6m1-6v6m1-6v6m1-6v6m1-6v6m1-6v6m1-6v5m1-83v3m0 75v5m1-81v3m0 73v5m1-80v6m0 71v2m1-77v2"/>
<path stroke="#26828e" d="M240.5 48v4m3 91v3m1-3v3m1-4v4m1-4v3m1-3v3m1-3v1m2-33v6m1-5v8m1-7v8m0 11v4m1-21v8m0 7v8m1-21v7m0 5v10m1-19v4m0 4v12m1-13v14m1-14v14m1-14v14m1-15v15m1-15v16m1-16v16m1-16v16m1-16v16m1-16v15m1-15v15m1-15v15m1-15v14m1-13v13m1-13v12m1-11v10m1-9v8m1-6v4m11-7v9m1-11v12m1-13v14m1-50v2m0 33v16m1-53v5m0 31v17m1-53v5m0 30v19m1-53v2m0 31v20m1-20v20m1-21v22m1-56v1m0 33v22m1-57v2m0 33v22m1-23v23m1-23v23m1-23v23m1-23v23m1-23v23m1-23v23m1-23v23m1-22v22m1-22v22m1-22v22m1-21v21m1-21v21m1-21v20m1-19v19m1-19v19m1-19v19m1-18v18m1-18v17m1-16v16m1-16v16m1-75v6m0 54v14m1-13v13m1-13v12m1-11v10m1-9v6m1-4v2m4-2v4m1-5v10m1-11v12m1-13v14m1-15v15m1-15v16m1-16v16m1-17v17m1-17v18m1-18v18m1-18v18m1-19v19m1-19v19m1-19v19m1-19v20m1-20v20m1-20v20m1-20v20m1-20v20m1-19v18m1-18v18m1-18v18m1-18v18m1-17v16m1-16v16m1-15v14m1-14v13m1-12v11m1-10v9m1-7v5m2 8v3m1-3v4m1-4v4m1-4v4m1-4v5m1-5v5m1-5v5m1-5v5m1-5v5m1-5v6m1-6v6m1-6v6m1-6v6m1-5v4m1-4v4m1-4v4m1-4v4m1-4v4m1-4v3m1-78v4"/>
<path stroke="#24878e" d="M240.5 49v1m4 94v1m1-2v2m1-2v1m5-32v6m1-5v7m0 12v2m1-19v6m0 9v7m1-20v5m0 6v10m1-11v12m1-12v12m1-13v14m1-14v14m1-15v15m1-15v15m1-15v15m1-15v15m1-15v15m1-15v15m1-15v15m1-15v15m1-15v14m1-13v13m1-13v12m1-11v10m1-9v8m12-9v9m1-11v12m1-13v14m1-15v15m1-51v4m0 31v17m1-52v3m0 31v18m1-18v19m1-20v20m1-21v21m1-21v22m1-22v22m1-22v22m1-23v23m1-23v23m1-23v23m1-23v23m1-23v23m1-22v22m1-22v22m1-22v22m1-22v22m1-21v21m1-21v20m1-20v20m1-19v19m1-19v19m1-18v18m1-18v18m1-17v16m1-16v16m1-15v15m1-75v6m0 54v14m1-13v13m1-12v11m1-11v10m1-9v6m5-4v3m1-4v9m1-10v11m1-12v13m1-13v14m1-15v15m1-15v16m1-17v17m1-17v17m1-17v18m1-18v18m1-18v18m1-19v19m1-19v19m1-19v19m1-19v19m1-19v19m1-19v19m1-18v18m1-18v18m1-18v18m1-18v18m1-18v18m1-17v16m1-16v16m1-15v14m1-13v12m1-11v10m1-9v8m1-7v5m4 9v2m1-2v3m1-3v3m1-3v4m1-4v4m1-4v4m1-4v4m1-4v4m1-4v4m1-4v4m1-4v4m1-4v4m1-4v4m1-4v4m1-4v3m1-2v2"/>
<path stroke="#228d8d" d="M252.5 114v5m1-3v4m0 10v6m1-17v1m0 9v9m1-10v10m1-11v12m1-13v14m1-14v14m1-14v14m1-15v15m1-15v15m1-15v15m1-15v15m1-15v15m1-15v15m1-15v14m1-13v13m1-13v12m1-11v11m1-11v10m1-8v6m12-7v3m0 2v2m1-9v11m1-13v14m1-15v15m1-51v3m0 32v17m1-52v3m0 32v17m1-18v19m1-20v20m1-20v20m1-21v21m1-21v21m1-21v21m1-21v21m1-21v22m1-22v22m1-22v22m1-22v21m1-21v21m1-21v21m1-21v21m1-20v20m1-20v20m1-20v20m1-19v19m1-19v19m1-18v18m1-18v18m1-18v17m1-16v16m1-16v16m1-15v14m1-73v4m0 55v14m1-13v12m1-11v11m1-10v9m1-8v4m5-2v2m1-4v9m1-10v11m1-12v13m1-13v14m1-15v15m1-15v16m1-16v16m1-17v17m1-17v18m1-18v18m1-18v18m1-18v18m1-18v18m1-18v18m1-18v18m1-18v18m1-18v18m1-18v18m1-18v18m1-18v18m1-18v18m1-17v16m1-16v16m1-15v14m1-14v14m1-13v12m1-11v9m1-8v7m1-5v3m6 11v1m1-2v3m1-3v3m1-3v3m1-3v4m1-4v4m1-4v4m1-4v4m1-4v4m1-4v4m1-3v2m1-2v2m1-2v2"/>
<path stroke="#20938c" d="M253.5 131v5m1-7v8m1-9v10m1-11v12m1-12v12m1-13v14m1-14v14m1-14v14m1-14v14m1-15v15m1-15v15m1-15v15m1-14v14m1-14v13m1-13v13m1-13v12m1-11v10m1-9v8m1-7v6m12-6v2m1-5v10m1-11v12m1-13v14m1-50v1m0 34v16m1-17v17m1-18v18m1-19v20m1-20v20m1-21v21m1-21v21m1-21v21m1-21v21m1-21v21m1-21v21m1-21v21m1-21v21m1-21v21m1-21v21m1-21v21m1-20v20m1-20v20m1-19v19m1-19v19m1-19v19m1-18v18m1-18v17m1-16v16m1-16v16m1-15v14m1-14v14m1-72v3m0 56v13m1-13v12m1-11v10m1-9v8m1-7v4m6-3v8m1-9v10m1-11v12m1-13v13m1-13v14m1-15v15m1-15v16m1-16v16m1-17v17m1-17v18m1-18v18m1-18v18m1-18v18m1-18v18m1-18v18m1-18v18m1-18v18m1-18v18m1-18v18m1-18v18m1-17v16m1-16v16m1-16v16m1-15v14m1-14v13m1-12v11m1-10v9m1-8v7m1-4v1m8 12v1m1-1v2m1-2v2m1-2v2m1-2v2m1-2v2m1-2v2m1-2v2m1-1v1"/>
<path stroke="#1f998a" d="M253.5 131v4m1-6v8m1-9v10m1-11v12m1-12v12m1-13v13m1-13v14m1-14v14m1-14v14m1-14v14m1-15v15m1-14v14m1-14v13m1-13v13m1-13v13m1-13v12m1-11v10m1-9v8m1-6v4m13-7v9m1-11v12m1-13v14m1-15v15m1-16v17m1-18v18m1-18v19m1-20v20m1-20v20m1-21v21m1-21v21m1-21v21m1-21v21m1-21v21m1-21v21m1-21v21m1-21v21m1-21v21m1-20v20m1-20v20m1-20v20m1-19v19m1-19v19m1-19v19m1-18v17m1-17v17m1-16v16m1-16v16m1-15v14m1-14v14m1-72v2m0 57v12m1-11v11m1-11v10m1-9v8m1-6v3m6-3v7m1-8v9m1-10v11m1-12v13m1-13v14m1-15v15m1-15v16m1-16v16m1-17v17m1-17v17m1-17v18m1-18v18m1-18v18m1-18v18m1-18v18m1-18v18m1-18v18m1-18v18m1-18v18m1-17v17m1-17v16m1-16v16m1-15v15m1-15v14m1-13v12m1-11v10m1-9v8m1-7v5"/>
<path stroke="#1f9f88" d="M253.5 132v2m1-4v7m1-9v10m1-10v10m1-11v12m1-13v13m1-13v14m1-14v14m1-14v14m1-14v14m1-14v14m1-14v14m1-14v13m1-13v13m1-13v12m1-11v11m1-11v10m1-9v8m1-6v2m13-5v9m1-10v11m1-13v14m1-15v15m1-16v17m1-18v18m1-18v18m1-19v20m1-20v20m1-21v21m1-21v21m1-21v21m1-21v21m1-21v21m1-21v21m1-21v21m1-21v21m1-20v20m1-20v20m1-20v20m1-20v20m1-19v19m1-19v19m1-18v17m1-17v17m1-17v17m1-16v16m1-16v16m1-15v14m1-14v14m1-13v12m1-11v11m1-10v9m1-8v6m1-5v2m6-2v6m1-7v9m1-10v11m1-12v13m1-13v14m1-14v14m1-15v15m1-15v16m1-16v16m1-17v17m1-17v17m1-17v17m1-17v18m1-18v18m1-18v18m1-18v18m1-18v18m1-18v18m1-18v18m1-17v16m1-16v16m1-16v16m1-15v14m1-14v14m1-13v12m1-11v10m1-9v7m1-6v5"/>
<path stroke="#21a585" d="M254.5 130v6m1-7v8m1-9v10m1-11v12m1-12v12m1-13v13m1-13v14m1-14v14m1-14v14m1-14v14m1-14v13m1-13v13m1-13v13m1-13v12m1-11v11m1-10v9m1-8v6m14-7v7m1-9v11m1-13v14m1-15v15m1-15v16m1-17v17m1-18v18m1-19v19m1-19v20m1-20v20m1-21v21m1-21v21m1-21v21m1-21v21m1-21v21m1-21v21m1-21v21m1-20v20m1-20v20m1-20v20m1-19v19m1-19v19m1-19v18m1-17v17m1-17v17m1-16v16m1-16v16m1-15v14m1-14v14m1-13v13m1-13v12m1-11v10m1-9v9m1-8v6m7-4v4m1-6v9m1-9v10m1-11v12m1-13v13m1-13v14m1-15v15m1-15v16m1-16v16m1-16v16m1-17v17m1-17v17m1-17v17m1-17v18m1-18v18m1-18v18m1-18v18m1-18v18m1-17v16m1-16v16m1-16v16m1-16v16m1-15v14m1-14v13m1-12v11m1-10v9m1-8v7m1-5v3"/>
<path stroke="#25ab82" d="M254.5 130v6m1-7v8m1-9v10m1-11v12m1-12v12m1-13v13m1-13v13m1-13v13m1-13v13m1-13v13m1-13v13m1-13v13m1-13v13m1-12v11m1-11v10m1-9v8m1-7v6m14-7v7m1-9v10m1-11v12m1-13v14m1-15v15m1-16v17m1-18v18m1-18v18m1-19v20m1-20v20m1-20v20m1-21v21m1-21v21m1-21v21m1-21v21m1-21v21m1-20v20m1-20v20m1-20v20m1-20v20m1-19v19m1-19v18m1-17v17m1-17v17m1-17v17m1-16v16m1-16v15m1-14v14m1-14v14m1-13v12m1-12v12m1-11v10m1-9v8m1-7v6m7-4v3m1-4v8m1-9v10m1-11v12m1-13v13m1-13v14m1-15v15m1-15v15m1-15v16m1-16v16m1-16v16m1-17v17m1-17v17m1-17v17m1-17v17m1-17v17m1-17v17m1-16v16m1-16v16m1-16v16m1-16v16m1-15v15m1-15v14m1-13v12m1-12v11m1-10v9m1-8v7m1-5v3"/>
<path stroke="#2cb17e" d="M254.5 131v4m1-6v8m1-9v10m1-11v11m1-11v12m1-12v12m1-13v13m1-13v13m1-13v13m1-13v13m1-13v13m1-13v13m1-13v12m1-11v11m1-11v10m1-9v8m1-7v6m14-6v2m0 2v1m1-8v10m1-11v12m1-13v14m1-15v15m1-16v17m1-18v18m1-18v18m1-19v19m1-19v19m1-19v20m1-20v20m1-21v21m1-21v21m1-21v21m1-20v20m1-20v20m1-20v20m1-20v20m1-19v19m1-19v18m1-18v18m1-17v17m1-17v17m1-16v16m1-16v16m1-16v15m1-14v14m1-14v14m1-13v12m1-11v11m1-11v10m1-9v8m1-6v4m7-2v1m1-3v7m1-8v9m1-10v11m1-12v13m1-13v14m1-14v14m1-15v15m1-15v16m1-16v16m1-16v16m1-16v16m1-17v17m1-17v17m1-17v17m1-17v17m1-16v16m1-16v16m1-16v16m1-16v16m1-16v16m1-15v14m1-14v14m1-13v12m1-11v10m1-9v8m1-7v6"/>
<path stroke="#34b679" d="M254.5 131v4m1-6v8m1-9v10m1-10v10m1-11v12m1-12v12m1-13v13m1-13v13m1-13v13m1-13v13m1-13v13m1-13v13m1-12v11m1-11v11m1-11v10m1-9v8m1-6v4m15-7v9m1-11v12m1-13v14m1-15v15m1-16v17m1-17v17m1-18v18m1-19v19m1-19v19m1-19v19m1-19v19m1-19v20m1-20v20m1-20v19m1-19v19m1-19v19m1-19v19m1-19v19m1-18v18m1-18v18m1-18v18m1-17v17m1-17v17m1-16v16m1-16v15m1-14v14m1-14v14m1-13v13m1-13v12m1-11v11m1-10v9m1-8v7m1-6v4m8-4v7m1-8v9m1-10v11m1-11v12m1-13v13m1-13v14m1-15v15m1-15v15m1-15v16m1-16v16m1-16v16m1-16v16m1-16v16m1-16v16m1-16v16m1-16v16m1-16v16m1-16v16m1-16v16m1-15v15m1-15v14m1-14v14m1-13v12m1-11v10m1-9v8m1-7v5"/>
<path stroke="#3dbc74" d="M254.5 132v2m1-4v7m1-8v9m1-10v10m1-11v12m1-12v12m1-12v12m1-12v12m1-13v13m1-13v13m1-13v13m1-12v12m1-12v11m1-11v11m1-10v9m1-9v8m1-6v4m15-7v9m1-10v11m1-13v13m1-14v15m1-16v16m1-16v17m1-18v18m1-18v18m1-19v19m1-19v19m1-19v19m1-19v19m1-19v19m1-19v19m1-19v19m1-19v19m1-19v19m1-18v18m1-18v18m1-18v18m1-17v17m1-17v17m1-17v17m1-16v16m1-16v15m1-14v14m1-14v14m1-13v12m1-12v12m1-11v10m1-9v9m1-8v7m1-6v3m8-3v7m1-8v9m1-10v11m1-11v12m1-13v13m1-13v14m1-14v14m1-15v15m1-15v15m1-15v16m1-16v16m1-16v16m1-16v16m1-16v16m1-16v16m1-16v16m1-16v16m1-16v16m1-16v16m1-15v14m1-14v14m1-13v12m1-12v12m1-11v10m1-9v7m1-6v5"/>
<path stroke="#4ac16d" d="M255.5 130v6m1-7v8m1-9v10m1-11v11m1-11v12m1-12v12m1-12v12m1-12v12m1-13v13m1-12v12m1-12v11m1-11v11m1-11v10m1-9v9m1-8v6m16-8v8m1-9v11m1-12v12m1-14v15m1-15v15m1-16v17m1-18v18m1-18v18m1-19v19m1-19v19m1-19v19m1-19v19m1-19v19m1-19v19m1-19v19m1-19v19m1-19v19m1-18v18m1-18v18m1-18v18m1-17v17m1-17v17m1-16v16m1-16v15m1-15v15m1-14v14m1-14v14m1-13v12m1-11v11m1-11v10m1-9v8m1-7v6m1-4v2m8-2v5m1-7v9m1-9v10m1-11v12m1-13v13m1-13v14m1-14v14m1-15v15m1-15v15m1-15v16m1-16v16m1-16v16m1-16v16m1-16v16m1-16v16m1-16v16m1-16v16m1-16v16m1-15v15m1-15v14m1-14v14m1-13v12m1-12v11m1-10v9m1-8v7m1-5v4"/>
<path stroke="#56c667" d="M255.5 130v6m1-7v8m1-9v10m1-10v10m1-11v12m1-12v12m1-12v12m1-12v12m1-13v13m1-12v12m1-12v11m1-11v11m1-11v10m1-9v8m1-7v6m16-7v7m1-9v10m1-11v12m1-13v14m1-15v15m1-16v16m1-17v18m1-18v18m1-19v19m1-19v19m1-19v19m1-19v19m1-19v19m1-19v19m1-19v19m1-19v19m1-18v18m1-18v18m1-18v18m1-17v17m1-17v17m1-17v17m1-16v15m1-15v15m1-14v14m1-14v14m1-13v12m1-12v12m1-11v11m1-11v10m1-9v8m1-7v6m9-4v5m1-6v8m1-9v10m1-11v11m1-11v12m1-13v13m1-13v14m1-14v14m1-15v15m1-15v15m1-15v16m1-16v16m1-16v16m1-16v16m1-16v16m1-16v16m1-16v16m1-16v16m1-15v14m1-14v14m1-14v14m1-13v12m1-11v10m1-10v9m1-8v7m1-5v3"/>
<path stroke="#63cb5f" d="M255.5 131v5m1-7v8m1-9v10m1-10v10m1-11v11m1-11v12m1-12v12m1-12v12m1-12v12m1-12v11m1-11v11m1-11v11m1-11v10m1-9v8m1-7v6m16-7v7m1-9v10m1-11v12m1-13v14m1-15v15m1-16v16m1-16v17m1-18v18m1-18v18m1-19v19m1-19v19m1-19v19m1-19v19m1-19v19m1-19v19m1-19v19m1-18v18m1-18v18m1-18v18m1-17v17m1-17v17m1-17v17m1-16v15m1-15v15m1-14v14m1-14v14m1-13v12m1-12v12m1-11v10m1-10v10m1-9v8m1-7v6m9-4v4m1-5v7m1-8v9m1-10v11m1-11v12m1-13v13m1-13v14m1-14v14m1-15v15m1-15v15m1-15v15m1-15v15m1-15v16m1-16v16m1-16v16m1-16v16m1-16v16m1-15v14m1-14v14m1-14v14m1-13v13m1-13v12m1-11v10m1-9v8m1-7v6m1-5v2"/>
<path stroke="#73d056" d="M255.5 131v4m1-6v8m1-8v9m1-10v10m1-11v11m1-11v12m1-12v12m1-12v12m1-12v12m1-12v11m1-11v11m1-11v11m1-10v9m1-9v8m1-7v6m16-6v5m1-7v9m1-11v12m1-13v13m1-14v15m1-16v16m1-16v16m1-17v18m1-18v18m1-19v19m1-19v19m1-19v19m1-19v19m1-19v19m1-19v19m1-18v18m1-18v18m1-18v18m1-18v18m1-17v17m1-17v17m1-16v15m1-15v15m1-15v15m1-14v14m1-14v14m1-13v12m1-12v12m1-11v10m1-9v9m1-8v7m1-6v5m9-3v2m1-4v7m1-8v9m1-10v11m1-11v12m1-13v13m1-13v14m1-14v14m1-14v14m1-15v15m1-15v15m1-15v15m1-15v16m1-16v16m1-16v16m1-16v16m1-16v16m1-15v14m1-14v14m1-14v14m1-13v12m1-12v12m1-11v10m1-9v8m1-7v5m1-3v1"/>
<path stroke="#81d34d" d="M255.5 131v4m1-5v7m1-8v8m1-9v10m1-10v10m1-11v11m1-11v11m1-11v11m1-11v11m1-11v11m1-11v11m1-11v10m1-9v9m1-9v8m1-6v4m16-4v2m1-5v9m1-11v12m1-13v13m1-14v15m1-15v15m1-16v16m1-17v18m1-18v18m1-18v18m1-19v19m1-19v19m1-19v19m1-19v19m1-19v19m1-18v18m1-18v18m1-18v18m1-17v17m1-17v17m1-17v16m1-15v15m1-15v15m1-14v14m1-14v14m1-14v13m1-12v12m1-12v12m1-11v10m1-9v9m1-8v7m1-6v4m9-1v1m1-4v7m1-8v9m1-10v11m1-11v12m1-12v12m1-13v13m1-13v14m1-14v14m1-14v14m1-15v15m1-15v15m1-15v15m1-15v15m1-15v15m1-15v15m1-14v14m1-14v14m1-14v14m1-14v14m1-13v12m1-12v12m1-11v10m1-9v7m1-6v5"/>
<path stroke="#93d741" d="M255.5 132v3m1-5v6m1-7v8m1-9v10m1-10v10m1-11v11m1-11v11m1-11v11m1-11v11m1-11v11m1-11v11m1-11v10m1-9v9m1-8v7m1-6v4m17-7v9m1-10v11m1-13v13m1-13v14m1-15v15m1-16v16m1-17v17m1-17v18m1-18v18m1-19v19m1-19v19m1-19v19m1-19v19m1-18v18m1-18v18m1-18v18m1-18v18m1-17v17m1-17v16m1-16v16m1-15v15m1-15v15m1-14v14m1-14v14m1-13v12m1-12v12m1-11v11m1-11v10m1-9v8m1-7v7m1-6v4m10-3v6m1-7v8m1-9v10m1-11v11m1-11v12m1-13v13m1-13v14m1-14v14m1-14v14m1-15v15m1-15v15m1-15v15m1-15v15m1-15v15m1-15v15m1-14v14m1-14v14m1-14v14m1-14v14m1-13v12m1-12v11m1-10v9m1-8v7m1-6v5"/>
<path stroke="#a2da37" d="M255.5 132v2m1-4v6m1-7v8m1-9v10m1-10v10m1-11v11m1-11v11m1-11v11m1-11v11m1-11v11m1-11v11m1-11v10m1-9v8m1-7v6m1-5v3m17-6v8m1-9v10m1-11v12m1-13v14m1-15v15m1-16v16m1-16v16m1-17v17m1-17v17m1-17v17m1-17v18m1-18v18m1-18v18m1-18v17m1-17v17m1-17v17m1-17v17m1-16v16m1-16v16m1-16v16m1-15v15m1-15v15m1-14v14m1-14v14m1-13v12m1-12v12m1-11v10m1-10v10m1-9v8m1-7v6m1-4v3m10-3v5m1-6v8m1-9v10m1-11v11m1-11v12m1-13v13m1-13v13m1-13v14m1-14v14m1-14v14m1-14v14m1-14v14m1-14v14m1-14v14m1-14v14m1-14v14m1-14v14m1-14v14m1-13v13m1-13v12m1-11v10m1-10v9m1-8v7m1-5v4"/>
<path stroke="#b2dd2d" d="M256.5 130v6m1-7v8m1-9v10m1-10v10m1-10v10m1-11v11m1-11v11m1-11v11m1-11v11m1-11v11m1-10v9m1-9v8m1-7v6m18-7v7m1-9v10m1-11v12m1-13v13m1-14v15m1-16v16m1-16v16m1-17v17m1-17v17m1-17v17m1-17v17m1-17v18m1-18v17m1-17v17m1-17v17m1-17v17m1-16v16m1-16v16m1-16v16m1-15v15m1-15v15m1-15v15m1-14v14m1-14v13m1-12v12m1-12v12m1-11v10m1-9v9m1-9v8m1-7v6m1-4v2m10-2v5m1-6v8m1-9v10m1-11v11m1-11v12m1-12v12m1-13v13m1-13v14m1-14v14m1-14v14m1-14v14m1-14v14m1-14v14m1-14v14m1-14v14m1-14v14m1-14v14m1-14v14m1-13v12m1-12v12m1-11v10m1-10v9m1-8v7m1-5v3"/>
<path stroke="#c5e021" d="M256.5 130v6m1-7v8m1-9v9m1-9v10m1-10v10m1-11v11m1-11v11m1-11v11m1-11v11m1-11v10m1-9v9m1-9v8m1-7v6m18-7v7m1-9v10m1-11v12m1-13v13m1-14v15m1-16v16m1-16v16m1-17v17m1-17v17m1-17v17m1-17v17m1-17v18m1-18v17m1-17v17m1-17v17m1-17v17m1-16v16m1-16v16m1-16v16m1-15v15m1-15v15m1-14v14m1-14v14m1-14v13m1-12v12m1-12v12m1-11v10m1-9v9m1-9v8m1-7v6m1-3v1m10-2v5m1-6v7m1-8v9m1-10v11m1-11v12m1-12v12m1-13v13m1-13v14m1-14v14m1-14v14m1-14v14m1-14v14m1-14v14m1-14v14m1-14v14m1-14v14m1-14v14m1-14v14m1-13v12m1-12v12m1-11v10m1-9v8m1-7v6m1-5v3"/>
<path stroke="#d5e21a" d="M256.5 131v5m1-7v8m1-8v8m1-9v10m1-10v10m1-10v10m1-10v10m1-11v11m1-10v10m1-10v9m1-9v9m1-9v8m1-7v6m18-7v7m1-8v9m1-11v12m1-13v13m1-14v15m1-15v15m1-16v16m1-17v17m1-17v17m1-17v17m1-17v17m1-17v17m1-17v17m1-17v17m1-17v17m1-17v17m1-16v16m1-16v16m1-16v16m1-15v15m1-15v15m1-14v14m1-14v13m1-13v13m1-12v12m1-12v12m1-11v10m1-9v9m1-8v7m1-6v5m11-4v4m1-5v7m1-8v9m1-9v10m1-11v11m1-11v12m1-13v13m1-13v13m1-13v14m1-14v14m1-14v14m1-14v14m1-14v14m1-14v14m1-14v14m1-14v14m1-14v14m1-13v13m1-13v12m1-12v12m1-11v10m1-9v8m1-7v5m1-4v2"/>
<path stroke="#e5e419" d="M256.5 131v4m1-6v8m1-8v8m1-9v10m1-10v10m1-10v10m1-10v10m1-11v11m1-10v10m1-10v9m1-9v9m1-9v8m1-6v4m18-5v5m1-7v9m1-11v12m1-13v13m1-14v15m1-15v15m1-16v16m1-17v17m1-17v17m1-17v17m1-17v17m1-17v17m1-17v17m1-17v17m1-17v17m1-17v17m1-16v16m1-16v16m1-15v15m1-15v15m1-15v15m1-14v14m1-14v13m1-12v12m1-12v12m1-11v10m1-10v10m1-9v9m1-8v7m1-6v5m11-3v3m1-5v7m1-8v9m1-9v10m1-11v11m1-11v12m1-12v12m1-13v13m1-13v13m1-13v14m1-14v14m1-14v14m1-14v14m1-14v14m1-14v14m1-14v14m1-14v14m1-13v12m1-12v12m1-12v12m1-11v10m1-9v7m1-6v5m1-3v1"/>
<path stroke="#fde725" d="M256.5 131v4m1-6v8m1-8v8m1-9v10m1-10v10m1-10v10m1-10v10m1-11v11m1-10v10m1-10v9m1-9v9m1-9v8m1-6v4m18-5v5m1-7v9m1-11v12m1-13v13m1-14v15m1-15v15m1-16v16m1-17v17m1-17v17m1-17v17m1-17v17m1-17v17m1-17v17m1-17v17m1-17v17m1-17v17m1-16v16m1-16v16m1-15v15m1-15v15m1-15v15m1-14v14m1-14v13m1-12v12m1-12v12m1-11v10m1-10v10m1-9v9m1-8v7m1-6v5m11-3v2m1-4v7m1-8v9m1-9v10m1-11v11m1-11v12m1-12v12m1-13v13m1-13v13m1-13v14m1-14v14m1-14v14m1-14v14m1-14v14m1-14v14m1-14v14m1-14v14m1-13v12m1-12v12m1-12v12m1-11v10m1-9v7m1-6v5"/>
</g></g>
<line x1="60.5" y1="3.2" x2="60.5" y2="163.2" stroke="#b09cc4" stroke-opacity="0.32" stroke-width="0.6"/>
<line x1="90.5" y1="3.2" x2="90.5" y2="163.2" stroke="#b09cc4" stroke-opacity="0.32" stroke-width="0.6"/>
<line x1="120.5" y1="3.2" x2="120.5" y2="163.2" stroke="#b09cc4" stroke-opacity="0.32" stroke-width="0.6"/>
<line x1="150.5" y1="3.2" x2="150.5" y2="163.2" stroke="#b09cc4" stroke-opacity="0.32" stroke-width="0.6"/>
<line x1="180.5" y1="3.2" x2="180.5" y2="163.2" stroke="#b09cc4" stroke-opacity="0.32" stroke-width="0.6"/>
<line x1="240.5" y1="3.2" x2="240.5" y2="163.2" stroke="#b09cc4" stroke-opacity="0.32" stroke-width="0.6"/>
<line x1="270.5" y1="3.2" x2="270.5" y2="163.2" stroke="#b09cc4" stroke-opacity="0.32" stroke-width="0.6"/>
<line x1="300.5" y1="3.2" x2="300.5" y2="163.2" stroke="#b09cc4" stroke-opacity="0.32" stroke-width="0.6"/>
<line x1="330.5" y1="3.2" x2="330.5" y2="163.2" stroke="#b09cc4" stroke-opacity="0.32" stroke-width="0.6"/>
<line x1="360.5" y1="3.2" x2="360.5" y2="163.2" stroke="#b09cc4" stroke-opacity="0.32" stroke-width="0.6"/>
<line x1="46" y1="83.4" x2="196" y2="83.4" stroke="#b09cc4" stroke-opacity="0.32" stroke-width="0.6"/>
<line x1="226" y1="83.4" x2="376" y2="83.4" stroke="#b09cc4" stroke-opacity="0.32" stroke-width="0.6"/>
<line x1="44.1" y1="59.12" x2="46" y2="59.12" stroke="#000" stroke-width="0.65"/>
<line x1="44.1" y1="45.03" x2="46" y2="45.03" stroke="#000" stroke-width="0.65"/>
<line x1="44.1" y1="35.04" x2="46" y2="35.04" stroke="#000" stroke-width="0.65"/>
<line x1="44.1" y1="27.28" x2="46" y2="27.28" stroke="#000" stroke-width="0.65"/>
<line x1="44.1" y1="20.95" x2="46" y2="20.95" stroke="#000" stroke-width="0.65"/>
<line x1="44.1" y1="15.59" x2="46" y2="15.59" stroke="#000" stroke-width="0.65"/>
<line x1="44.1" y1="10.95" x2="46" y2="10.95" stroke="#000" stroke-width="0.65"/>
<line x1="44.1" y1="6.86" x2="46" y2="6.86" stroke="#000" stroke-width="0.65"/>
<line x1="44.1" y1="139.12" x2="46" y2="139.12" stroke="#000" stroke-width="0.65"/>
<line x1="44.1" y1="125.03" x2="46" y2="125.03" stroke="#000" stroke-width="0.65"/>
<line x1="44.1" y1="115.04" x2="46" y2="115.04" stroke="#000" stroke-width="0.65"/>
<line x1="44.1" y1="107.28" x2="46" y2="107.28" stroke="#000" stroke-width="0.65"/>
<line x1="44.1" y1="100.95" x2="46" y2="100.95" stroke="#000" stroke-width="0.65"/>
<line x1="44.1" y1="95.59" x2="46" y2="95.59" stroke="#000" stroke-width="0.65"/>
<line x1="44.1" y1="90.95" x2="46" y2="90.95" stroke="#000" stroke-width="0.65"/>
<line x1="44.1" y1="86.86" x2="46" y2="86.86" stroke="#000" stroke-width="0.65"/>
<line x1="42.9" y1="3.2" x2="46" y2="3.2" stroke="#000" stroke-width="0.8"/>
<line x1="42.9" y1="83.2" x2="46" y2="83.2" stroke="#000" stroke-width="0.8"/>
<line x1="42.9" y1="163.2" x2="46" y2="163.2" stroke="#000" stroke-width="0.8"/>
<line x1="224.1" y1="59.12" x2="226" y2="59.12" stroke="#000" stroke-width="0.65"/>
<line x1="224.1" y1="45.03" x2="226" y2="45.03" stroke="#000" stroke-width="0.65"/>
<line x1="224.1" y1="35.04" x2="226" y2="35.04" stroke="#000" stroke-width="0.65"/>
<line x1="224.1" y1="27.28" x2="226" y2="27.28" stroke="#000" stroke-width="0.65"/>
<line x1="224.1" y1="20.95" x2="226" y2="20.95" stroke="#000" stroke-width="0.65"/>
<line x1="224.1" y1="15.59" x2="226" y2="15.59" stroke="#000" stroke-width="0.65"/>
<line x1="224.1" y1="10.95" x2="226" y2="10.95" stroke="#000" stroke-width="0.65"/>
<line x1="224.1" y1="6.86" x2="226" y2="6.86" stroke="#000" stroke-width="0.65"/>
<line x1="224.1" y1="139.12" x2="226" y2="139.12" stroke="#000" stroke-width="0.65"/>
<line x1="224.1" y1="125.03" x2="226" y2="125.03" stroke="#000" stroke-width="0.65"/>
<line x1="224.1" y1="115.04" x2="226" y2="115.04" stroke="#000" stroke-width="0.65"/>
<line x1="224.1" y1="107.28" x2="226" y2="107.28" stroke="#000" stroke-width="0.65"/>
<line x1="224.1" y1="100.95" x2="226" y2="100.95" stroke="#000" stroke-width="0.65"/>
<line x1="224.1" y1="95.59" x2="226" y2="95.59" stroke="#000" stroke-width="0.65"/>
<line x1="224.1" y1="90.95" x2="226" y2="90.95" stroke="#000" stroke-width="0.65"/>
<line x1="224.1" y1="86.86" x2="226" y2="86.86" stroke="#000" stroke-width="0.65"/>
<line x1="222.9" y1="3.2" x2="226" y2="3.2" stroke="#000" stroke-width="0.8"/>
<line x1="222.9" y1="83.2" x2="226" y2="83.2" stroke="#000" stroke-width="0.8"/>
<line x1="222.9" y1="163.2" x2="226" y2="163.2" stroke="#000" stroke-width="0.8"/>
<line x1="60.5" y1="163.2" x2="60.5" y2="166.2" stroke="#000" stroke-width="0.7"/>
<line x1="90.5" y1="163.2" x2="90.5" y2="166.2" stroke="#000" stroke-width="0.7"/>
<line x1="120.5" y1="163.2" x2="120.5" y2="166.2" stroke="#000" stroke-width="0.7"/>
<line x1="150.5" y1="163.2" x2="150.5" y2="166.2" stroke="#000" stroke-width="0.7"/>
<line x1="180.5" y1="163.2" x2="180.5" y2="166.2" stroke="#000" stroke-width="0.7"/>
<line x1="240.5" y1="163.2" x2="240.5" y2="166.2" stroke="#000" stroke-width="0.7"/>
<line x1="270.5" y1="163.2" x2="270.5" y2="166.2" stroke="#000" stroke-width="0.7"/>
<line x1="300.5" y1="163.2" x2="300.5" y2="166.2" stroke="#000" stroke-width="0.7"/>
<line x1="330.5" y1="163.2" x2="330.5" y2="166.2" stroke="#000" stroke-width="0.7"/>
<line x1="360.5" y1="163.2" x2="360.5" y2="166.2" stroke="#000" stroke-width="0.7"/>
<rect x="49.9" y="6.9" width="31.3" height="14.9" fill="#e7dbec" stroke="#b7a3c6" stroke-width="0.6"/>
<rect x="229.9" y="6.9" width="65.2" height="14.9" fill="#e7dbec" stroke="#b7a3c6" stroke-width="0.6"/>
<rect x="396.5" y="2.4" width="8.6" height="160.9" fill="url(#vir)" stroke="#9a9a9a" stroke-width="0.5"/>
<line x1="405.1" y1="163.3" x2="407.2" y2="163.3" stroke="#000" stroke-width="0.7"/>
<line x1="396.7" y1="131.1" x2="404.9" y2="131.1" stroke="#ddd" stroke-opacity="0.35" stroke-width="0.6"/>
<line x1="405.1" y1="131.1" x2="407.2" y2="131.1" stroke="#000" stroke-width="0.7"/>
<line x1="396.7" y1="98.9" x2="404.9" y2="98.9" stroke="#ddd" stroke-opacity="0.35" stroke-width="0.6"/>
<line x1="405.1" y1="98.9" x2="407.2" y2="98.9" stroke="#000" stroke-width="0.7"/>
<line x1="396.7" y1="66.8" x2="404.9" y2="66.8" stroke="#ddd" stroke-opacity="0.35" stroke-width="0.6"/>
<line x1="405.1" y1="66.8" x2="407.2" y2="66.8" stroke="#000" stroke-width="0.7"/>
<line x1="396.7" y1="34.6" x2="404.9" y2="34.6" stroke="#ddd" stroke-opacity="0.35" stroke-width="0.6"/>
<line x1="405.1" y1="34.6" x2="407.2" y2="34.6" stroke="#000" stroke-width="0.7"/>
<line x1="405.1" y1="2.4" x2="407.2" y2="2.4" stroke="#000" stroke-width="0.7"/>
<rect x="62.2" y="251.9" width="49.8" height="183.4" fill="#1e90ff"/>
<rect x="127.8" y="423.4" width="50.8" height="11.9" fill="#fc9482"/>
<rect x="282.8" y="234.1" width="49.8" height="201.2" fill="#1e90ff"/>
<rect x="349.2" y="426.2" width="50.1" height="9.1" fill="#fc9482"/>
<rect x="45.2" y="224.8" width="370.5" height="210.5" fill="none" stroke="#a6a6a6" stroke-width="0.8"/>
<line x1="44.0" y1="430.73" x2="45.2" y2="430.73" stroke="#000" stroke-width="0.55"/>
<line x1="44.0" y1="409.86" x2="45.2" y2="409.86" stroke="#000" stroke-width="0.55"/>
<line x1="44.0" y1="395.06" x2="45.2" y2="395.06" stroke="#000" stroke-width="0.55"/>
<line x1="44.0" y1="383.57" x2="45.2" y2="383.57" stroke="#000" stroke-width="0.55"/>
<line x1="44.0" y1="374.19" x2="45.2" y2="374.19" stroke="#000" stroke-width="0.55"/>
<line x1="44.0" y1="366.26" x2="45.2" y2="366.26" stroke="#000" stroke-width="0.55"/>
<line x1="44.0" y1="359.38" x2="45.2" y2="359.38" stroke="#000" stroke-width="0.55"/>
<line x1="44.0" y1="353.32" x2="45.2" y2="353.32" stroke="#000" stroke-width="0.55"/>
<line x1="44.0" y1="312.23" x2="45.2" y2="312.23" stroke="#000" stroke-width="0.55"/>
<line x1="44.0" y1="291.36" x2="45.2" y2="291.36" stroke="#000" stroke-width="0.55"/>
<line x1="44.0" y1="276.56" x2="45.2" y2="276.56" stroke="#000" stroke-width="0.55"/>
<line x1="44.0" y1="265.07" x2="45.2" y2="265.07" stroke="#000" stroke-width="0.55"/>
<line x1="44.0" y1="255.69" x2="45.2" y2="255.69" stroke="#000" stroke-width="0.55"/>
<line x1="44.0" y1="247.76" x2="45.2" y2="247.76" stroke="#000" stroke-width="0.55"/>
<line x1="44.0" y1="240.88" x2="45.2" y2="240.88" stroke="#000" stroke-width="0.55"/>
<line x1="44.0" y1="234.82" x2="45.2" y2="234.82" stroke="#000" stroke-width="0.55"/>
<line x1="43.0" y1="347.90" x2="45.2" y2="347.90" stroke="#000" stroke-width="0.7"/>
<line x1="43.0" y1="229.40" x2="45.2" y2="229.40" stroke="#000" stroke-width="0.7"/>
<line x1="119.8" y1="435.3" x2="119.8" y2="437.3" stroke="#000" stroke-width="0.7"/>
<line x1="340.5" y1="435.3" x2="340.5" y2="437.3" stroke="#000" stroke-width="0.7"/>
<rect x="351.9" y="232.8" width="9" height="6.4" fill="#1e90ff"/>
<rect x="351.9" y="245.4" width="9" height="6.4" fill="#fc9482"/>
<g filter="url(#ident)">
<text x="40.6" y="6.65" font-size="8.8" text-anchor="end" stroke-width="0.27">1000</text>
<text x="40.6" y="86.65" font-size="8.8" text-anchor="end" stroke-width="0.27">100</text>
<text x="40.6" y="166.65" font-size="8.8" text-anchor="end" stroke-width="0.27">10</text>
<text x="61.0" y="175.3" font-size="8.8" text-anchor="middle" stroke-width="0.27">−0.2</text>
<text x="91.0" y="175.3" font-size="8.8" text-anchor="middle" stroke-width="0.27">−0.1</text>
<text x="120.8" y="175.3" font-size="8.8" text-anchor="middle" stroke-width="0.27">0.0</text>
<text x="150.8" y="175.3" font-size="8.8" text-anchor="middle" stroke-width="0.27">0.1</text>
<text x="180.8" y="175.3" font-size="8.8" text-anchor="middle" stroke-width="0.27">0.2</text>
<text x="241.0" y="175.3" font-size="8.8" text-anchor="middle" stroke-width="0.27">−0.4</text>
<text x="271.0" y="175.3" font-size="8.8" text-anchor="middle" stroke-width="0.27">−0.2</text>
<text x="300.8" y="175.3" font-size="8.8" text-anchor="middle" stroke-width="0.27">0.0</text>
<text x="330.8" y="175.3" font-size="8.8" text-anchor="middle" stroke-width="0.27">0.2</text>
<text x="360.8" y="175.3" font-size="8.8" text-anchor="middle" stroke-width="0.27">0.4</text>
<text x="218.8" y="188.7" font-size="11.8" text-anchor="middle" textLength="72.8" lengthAdjust="spacingAndGlyphs" stroke-width="0.14">Time [seconds]</text>
<text transform="translate(9.1,77.6) rotate(-90)" font-size="11.8" text-anchor="middle" textLength="73.0" lengthAdjust="spacingAndGlyphs" stroke-width="0.14">Frequency [Hz]</text>
<text x="66.0" y="16.95" font-size="9.0" text-anchor="middle" textLength="24.2" lengthAdjust="spacingAndGlyphs" stroke-width="0.27">Tomte</text>
<text x="262.8" y="16.95" font-size="9.0" text-anchor="middle" textLength="57.3" lengthAdjust="spacingAndGlyphs" stroke-width="0.27">Fast Scattering</text>
<text x="409.7" y="166.8" font-size="8.8" stroke-width="0.27">0</text>
<text x="409.7" y="134.6" font-size="8.8" stroke-width="0.27">5</text>
<text x="409.7" y="102.4" font-size="8.8" stroke-width="0.27">10</text>
<text x="409.7" y="70.2" font-size="8.8" stroke-width="0.27">15</text>
<text x="409.7" y="38.0" font-size="8.8" stroke-width="0.27">20</text>
<text x="409.7" y="5.9" font-size="8.8" stroke-width="0.27">25</text>
<text transform="translate(429.5,82.6) rotate(-90)" font-size="11.8" text-anchor="middle" textLength="93.4" lengthAdjust="spacingAndGlyphs" stroke-width="0.14">Normalized energy</text>
<text x="41.3" y="233.4" font-size="11.3" text-anchor="end" stroke-width="0.14">10</text>
<text x="41.3" y="351.9" font-size="11.3" text-anchor="end" stroke-width="0.14">1</text>
<text x="120.1" y="447.9" font-size="11.5" text-anchor="middle" textLength="31.4" lengthAdjust="spacingAndGlyphs" stroke-width="0.14">Tomte</text>
<text x="340.9" y="447.9" font-size="11.5" text-anchor="middle" textLength="72.5" lengthAdjust="spacingAndGlyphs" stroke-width="0.14">Fast Scattering</text>
<text x="230.6" y="461.6" font-size="12.5" text-anchor="middle" textLength="74.6" lengthAdjust="spacingAndGlyphs" stroke-width="0.14">Glitch Classes</text>
<text transform="translate(23.8,329.7) rotate(-90)" font-size="12.5" text-anchor="middle" textLength="80.1" lengthAdjust="spacingAndGlyphs" stroke-width="0.14">Rate [per hour]</text>
<text x="368.2" y="239.2" font-size="8.9" textLength="39.2" lengthAdjust="spacingAndGlyphs" stroke-width="0.27">Livingston</text>
<text x="368.2" y="252.2" font-size="8.9" textLength="29.6" lengthAdjust="spacingAndGlyphs" stroke-width="0.27">Hanford</text>
</g>
</svg></body></html>
